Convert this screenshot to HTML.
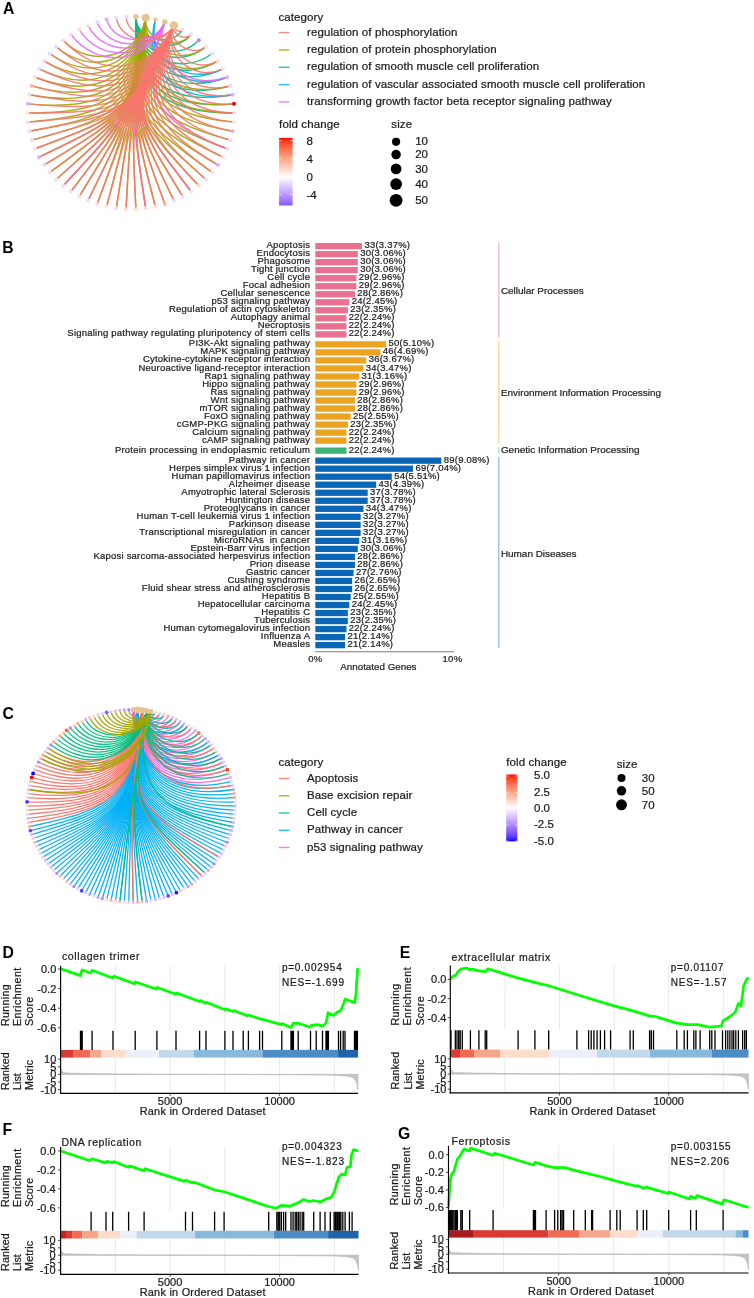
<!DOCTYPE html>
<html><head><meta charset="utf-8"><style>
html,body{margin:0;padding:0;background:#fff;}
svg{display:block;filter:blur(0.4px);}
text{font-family:"Liberation Sans", sans-serif;stroke:currentColor;stroke-width:0.22px;}
</style></head><body>
<svg width="754" height="1298" viewBox="0 0 754 1298">
<rect width="754" height="1298" fill="#fff"/>
<g>
<rect x="315.3" y="243.00" width="46.74" height="6.3" fill="#E9728F"/>
<text x="310.22" y="248.20" font-size="9.5" text-anchor="end" fill="#1c1c1c" color="#1c1c1c" letter-spacing="0.22">Apoptosis</text>
<text x="364.44" y="248.20" font-size="9.5" text-anchor="start" fill="#1c1c1c" color="#1c1c1c" letter-spacing="0.22">33(3.37%)</text>
<rect x="315.3" y="251.02" width="42.49" height="6.3" fill="#E9728F"/>
<text x="310.22" y="256.22" font-size="9.5" text-anchor="end" fill="#1c1c1c" color="#1c1c1c" letter-spacing="0.22">Endocytosis</text>
<text x="360.19" y="256.22" font-size="9.5" text-anchor="start" fill="#1c1c1c" color="#1c1c1c" letter-spacing="0.22">30(3.06%)</text>
<rect x="315.3" y="259.04" width="42.49" height="6.3" fill="#E9728F"/>
<text x="310.22" y="264.24" font-size="9.5" text-anchor="end" fill="#1c1c1c" color="#1c1c1c" letter-spacing="0.22">Phagosome</text>
<text x="360.19" y="264.24" font-size="9.5" text-anchor="start" fill="#1c1c1c" color="#1c1c1c" letter-spacing="0.22">30(3.06%)</text>
<rect x="315.3" y="267.06" width="42.49" height="6.3" fill="#E9728F"/>
<text x="310.22" y="272.26" font-size="9.5" text-anchor="end" fill="#1c1c1c" color="#1c1c1c" letter-spacing="0.22">Tight junction</text>
<text x="360.19" y="272.26" font-size="9.5" text-anchor="start" fill="#1c1c1c" color="#1c1c1c" letter-spacing="0.22">30(3.06%)</text>
<rect x="315.3" y="275.08" width="41.07" height="6.3" fill="#E9728F"/>
<text x="310.22" y="280.28" font-size="9.5" text-anchor="end" fill="#1c1c1c" color="#1c1c1c" letter-spacing="0.22">Cell cycle</text>
<text x="358.77" y="280.28" font-size="9.5" text-anchor="start" fill="#1c1c1c" color="#1c1c1c" letter-spacing="0.22">29(2.96%)</text>
<rect x="315.3" y="283.10" width="41.07" height="6.3" fill="#E9728F"/>
<text x="310.22" y="288.30" font-size="9.5" text-anchor="end" fill="#1c1c1c" color="#1c1c1c" letter-spacing="0.22">Focal adhesion</text>
<text x="358.77" y="288.30" font-size="9.5" text-anchor="start" fill="#1c1c1c" color="#1c1c1c" letter-spacing="0.22">29(2.96%)</text>
<rect x="315.3" y="291.12" width="39.66" height="6.3" fill="#E9728F"/>
<text x="310.22" y="296.32" font-size="9.5" text-anchor="end" fill="#1c1c1c" color="#1c1c1c" letter-spacing="0.22">Cellular senescence</text>
<text x="357.36" y="296.32" font-size="9.5" text-anchor="start" fill="#1c1c1c" color="#1c1c1c" letter-spacing="0.22">28(2.86%)</text>
<rect x="315.3" y="299.14" width="33.99" height="6.3" fill="#E9728F"/>
<text x="310.22" y="304.34" font-size="9.5" text-anchor="end" fill="#1c1c1c" color="#1c1c1c" letter-spacing="0.22">p53 signaling pathway</text>
<text x="351.69" y="304.34" font-size="9.5" text-anchor="start" fill="#1c1c1c" color="#1c1c1c" letter-spacing="0.22">24(2.45%)</text>
<rect x="315.3" y="307.16" width="32.57" height="6.3" fill="#E9728F"/>
<text x="310.22" y="312.36" font-size="9.5" text-anchor="end" fill="#1c1c1c" color="#1c1c1c" letter-spacing="0.22">Regulation of actin cytoskeleton</text>
<text x="350.27" y="312.36" font-size="9.5" text-anchor="start" fill="#1c1c1c" color="#1c1c1c" letter-spacing="0.22">23(2.35%)</text>
<rect x="315.3" y="315.18" width="31.16" height="6.3" fill="#E9728F"/>
<text x="310.22" y="320.38" font-size="9.5" text-anchor="end" fill="#1c1c1c" color="#1c1c1c" letter-spacing="0.22">Autophagy animal</text>
<text x="348.86" y="320.38" font-size="9.5" text-anchor="start" fill="#1c1c1c" color="#1c1c1c" letter-spacing="0.22">22(2.24%)</text>
<rect x="315.3" y="323.20" width="31.16" height="6.3" fill="#E9728F"/>
<text x="310.22" y="328.40" font-size="9.5" text-anchor="end" fill="#1c1c1c" color="#1c1c1c" letter-spacing="0.22">Necroptosis</text>
<text x="348.86" y="328.40" font-size="9.5" text-anchor="start" fill="#1c1c1c" color="#1c1c1c" letter-spacing="0.22">22(2.24%)</text>
<rect x="315.3" y="331.22" width="31.16" height="6.3" fill="#E9728F"/>
<text x="310.22" y="336.42" font-size="9.5" text-anchor="end" fill="#1c1c1c" color="#1c1c1c" letter-spacing="0.22">Signaling pathway regulating pluripotency of stem cells</text>
<text x="348.86" y="336.42" font-size="9.5" text-anchor="start" fill="#1c1c1c" color="#1c1c1c" letter-spacing="0.22">22(2.24%)</text>
<rect x="315.3" y="341.24" width="70.81" height="6.3" fill="#ECA420"/>
<text x="310.22" y="346.44" font-size="9.5" text-anchor="end" fill="#1c1c1c" color="#1c1c1c" letter-spacing="0.22">PI3K-Akt signaling pathway</text>
<text x="388.51" y="346.44" font-size="9.5" text-anchor="start" fill="#1c1c1c" color="#1c1c1c" letter-spacing="0.22">50(5.10%)</text>
<rect x="315.3" y="349.26" width="65.15" height="6.3" fill="#ECA420"/>
<text x="310.22" y="354.46" font-size="9.5" text-anchor="end" fill="#1c1c1c" color="#1c1c1c" letter-spacing="0.22">MAPK signaling pathway</text>
<text x="382.85" y="354.46" font-size="9.5" text-anchor="start" fill="#1c1c1c" color="#1c1c1c" letter-spacing="0.22">46(4.69%)</text>
<rect x="315.3" y="357.28" width="50.99" height="6.3" fill="#ECA420"/>
<text x="310.22" y="362.48" font-size="9.5" text-anchor="end" fill="#1c1c1c" color="#1c1c1c" letter-spacing="0.22">Cytokine-cytokine receptor interaction</text>
<text x="368.69" y="362.48" font-size="9.5" text-anchor="start" fill="#1c1c1c" color="#1c1c1c" letter-spacing="0.22">36(3.67%)</text>
<rect x="315.3" y="365.30" width="48.15" height="6.3" fill="#ECA420"/>
<text x="310.22" y="370.50" font-size="9.5" text-anchor="end" fill="#1c1c1c" color="#1c1c1c" letter-spacing="0.22">Neuroactive ligand-receptor interaction</text>
<text x="365.85" y="370.50" font-size="9.5" text-anchor="start" fill="#1c1c1c" color="#1c1c1c" letter-spacing="0.22">34(3.47%)</text>
<rect x="315.3" y="373.32" width="43.91" height="6.3" fill="#ECA420"/>
<text x="310.22" y="378.52" font-size="9.5" text-anchor="end" fill="#1c1c1c" color="#1c1c1c" letter-spacing="0.22">Rap1 signaling pathway</text>
<text x="361.61" y="378.52" font-size="9.5" text-anchor="start" fill="#1c1c1c" color="#1c1c1c" letter-spacing="0.22">31(3.16%)</text>
<rect x="315.3" y="381.34" width="41.07" height="6.3" fill="#ECA420"/>
<text x="310.22" y="386.54" font-size="9.5" text-anchor="end" fill="#1c1c1c" color="#1c1c1c" letter-spacing="0.22">Hippo signaling pathway</text>
<text x="358.77" y="386.54" font-size="9.5" text-anchor="start" fill="#1c1c1c" color="#1c1c1c" letter-spacing="0.22">29(2.96%)</text>
<rect x="315.3" y="389.36" width="41.07" height="6.3" fill="#ECA420"/>
<text x="310.22" y="394.56" font-size="9.5" text-anchor="end" fill="#1c1c1c" color="#1c1c1c" letter-spacing="0.22">Ras signaling pathway</text>
<text x="358.77" y="394.56" font-size="9.5" text-anchor="start" fill="#1c1c1c" color="#1c1c1c" letter-spacing="0.22">29(2.96%)</text>
<rect x="315.3" y="397.38" width="39.66" height="6.3" fill="#ECA420"/>
<text x="310.22" y="402.58" font-size="9.5" text-anchor="end" fill="#1c1c1c" color="#1c1c1c" letter-spacing="0.22">Wnt signaling pathway</text>
<text x="357.36" y="402.58" font-size="9.5" text-anchor="start" fill="#1c1c1c" color="#1c1c1c" letter-spacing="0.22">28(2.86%)</text>
<rect x="315.3" y="405.40" width="39.66" height="6.3" fill="#ECA420"/>
<text x="310.22" y="410.60" font-size="9.5" text-anchor="end" fill="#1c1c1c" color="#1c1c1c" letter-spacing="0.22">mTOR signaling pathway</text>
<text x="357.36" y="410.60" font-size="9.5" text-anchor="start" fill="#1c1c1c" color="#1c1c1c" letter-spacing="0.22">28(2.86%)</text>
<rect x="315.3" y="413.42" width="35.41" height="6.3" fill="#ECA420"/>
<text x="310.22" y="418.62" font-size="9.5" text-anchor="end" fill="#1c1c1c" color="#1c1c1c" letter-spacing="0.22">FoxO signaling pathway</text>
<text x="353.11" y="418.62" font-size="9.5" text-anchor="start" fill="#1c1c1c" color="#1c1c1c" letter-spacing="0.22">25(2.55%)</text>
<rect x="315.3" y="421.44" width="32.57" height="6.3" fill="#ECA420"/>
<text x="310.22" y="426.64" font-size="9.5" text-anchor="end" fill="#1c1c1c" color="#1c1c1c" letter-spacing="0.22">cGMP-PKG signaling pathway</text>
<text x="350.27" y="426.64" font-size="9.5" text-anchor="start" fill="#1c1c1c" color="#1c1c1c" letter-spacing="0.22">23(2.35%)</text>
<rect x="315.3" y="429.46" width="31.16" height="6.3" fill="#ECA420"/>
<text x="310.22" y="434.66" font-size="9.5" text-anchor="end" fill="#1c1c1c" color="#1c1c1c" letter-spacing="0.22">Calcium signaling pathway</text>
<text x="348.86" y="434.66" font-size="9.5" text-anchor="start" fill="#1c1c1c" color="#1c1c1c" letter-spacing="0.22">22(2.24%)</text>
<rect x="315.3" y="437.48" width="31.16" height="6.3" fill="#ECA420"/>
<text x="310.22" y="442.68" font-size="9.5" text-anchor="end" fill="#1c1c1c" color="#1c1c1c" letter-spacing="0.22">cAMP signaling pathway</text>
<text x="348.86" y="442.68" font-size="9.5" text-anchor="start" fill="#1c1c1c" color="#1c1c1c" letter-spacing="0.22">22(2.24%)</text>
<rect x="315.3" y="447.50" width="31.16" height="6.3" fill="#3DB478"/>
<text x="310.22" y="452.70" font-size="9.5" text-anchor="end" fill="#1c1c1c" color="#1c1c1c" letter-spacing="0.22">Protein processing in endoplasmic reticulum</text>
<text x="348.86" y="452.70" font-size="9.5" text-anchor="start" fill="#1c1c1c" color="#1c1c1c" letter-spacing="0.22">22(2.24%)</text>
<rect x="315.3" y="457.52" width="126.05" height="6.3" fill="#0A67B7"/>
<text x="310.22" y="462.72" font-size="9.5" text-anchor="end" fill="#1c1c1c" color="#1c1c1c" letter-spacing="0.22">Pathway in cancer</text>
<text x="443.75" y="462.72" font-size="9.5" text-anchor="start" fill="#1c1c1c" color="#1c1c1c" letter-spacing="0.22">89(9.08%)</text>
<rect x="315.3" y="465.54" width="97.72" height="6.3" fill="#0A67B7"/>
<text x="310.22" y="470.74" font-size="9.5" text-anchor="end" fill="#1c1c1c" color="#1c1c1c" letter-spacing="0.22">Herpes simplex virus 1 infection</text>
<text x="415.42" y="470.74" font-size="9.5" text-anchor="start" fill="#1c1c1c" color="#1c1c1c" letter-spacing="0.22">69(7.04%)</text>
<rect x="315.3" y="473.56" width="76.48" height="6.3" fill="#0A67B7"/>
<text x="310.22" y="478.76" font-size="9.5" text-anchor="end" fill="#1c1c1c" color="#1c1c1c" letter-spacing="0.22">Human papillomavirus infection</text>
<text x="394.18" y="478.76" font-size="9.5" text-anchor="start" fill="#1c1c1c" color="#1c1c1c" letter-spacing="0.22">54(5.51%)</text>
<rect x="315.3" y="481.58" width="60.90" height="6.3" fill="#0A67B7"/>
<text x="310.22" y="486.78" font-size="9.5" text-anchor="end" fill="#1c1c1c" color="#1c1c1c" letter-spacing="0.22">Alzheimer disease</text>
<text x="378.60" y="486.78" font-size="9.5" text-anchor="start" fill="#1c1c1c" color="#1c1c1c" letter-spacing="0.22">43(4.39%)</text>
<rect x="315.3" y="489.60" width="52.40" height="6.3" fill="#0A67B7"/>
<text x="310.22" y="494.80" font-size="9.5" text-anchor="end" fill="#1c1c1c" color="#1c1c1c" letter-spacing="0.22">Amyotrophic lateral Sclerosis</text>
<text x="370.10" y="494.80" font-size="9.5" text-anchor="start" fill="#1c1c1c" color="#1c1c1c" letter-spacing="0.22">37(3.78%)</text>
<rect x="315.3" y="497.62" width="52.40" height="6.3" fill="#0A67B7"/>
<text x="310.22" y="502.82" font-size="9.5" text-anchor="end" fill="#1c1c1c" color="#1c1c1c" letter-spacing="0.22">Huntington disease</text>
<text x="370.10" y="502.82" font-size="9.5" text-anchor="start" fill="#1c1c1c" color="#1c1c1c" letter-spacing="0.22">37(3.78%)</text>
<rect x="315.3" y="505.64" width="48.15" height="6.3" fill="#0A67B7"/>
<text x="310.22" y="510.84" font-size="9.5" text-anchor="end" fill="#1c1c1c" color="#1c1c1c" letter-spacing="0.22">Proteoglycans in cancer</text>
<text x="365.85" y="510.84" font-size="9.5" text-anchor="start" fill="#1c1c1c" color="#1c1c1c" letter-spacing="0.22">34(3.47%)</text>
<rect x="315.3" y="513.66" width="45.32" height="6.3" fill="#0A67B7"/>
<text x="310.22" y="518.86" font-size="9.5" text-anchor="end" fill="#1c1c1c" color="#1c1c1c" letter-spacing="0.22">Human T-cell leukemia virus 1 infection</text>
<text x="363.02" y="518.86" font-size="9.5" text-anchor="start" fill="#1c1c1c" color="#1c1c1c" letter-spacing="0.22">32(3.27%)</text>
<rect x="315.3" y="521.68" width="45.32" height="6.3" fill="#0A67B7"/>
<text x="310.22" y="526.88" font-size="9.5" text-anchor="end" fill="#1c1c1c" color="#1c1c1c" letter-spacing="0.22">Parkinson disease</text>
<text x="363.02" y="526.88" font-size="9.5" text-anchor="start" fill="#1c1c1c" color="#1c1c1c" letter-spacing="0.22">32(3.27%)</text>
<rect x="315.3" y="529.70" width="45.32" height="6.3" fill="#0A67B7"/>
<text x="310.22" y="534.90" font-size="9.5" text-anchor="end" fill="#1c1c1c" color="#1c1c1c" letter-spacing="0.22">Transcriptional misregulation in cancer</text>
<text x="363.02" y="534.90" font-size="9.5" text-anchor="start" fill="#1c1c1c" color="#1c1c1c" letter-spacing="0.22">32(3.27%)</text>
<rect x="315.3" y="537.72" width="43.91" height="6.3" fill="#0A67B7"/>
<text x="310.22" y="542.92" font-size="9.5" text-anchor="end" fill="#1c1c1c" color="#1c1c1c" letter-spacing="0.22">MicroRNAs  in cancer</text>
<text x="361.61" y="542.92" font-size="9.5" text-anchor="start" fill="#1c1c1c" color="#1c1c1c" letter-spacing="0.22">31(3.16%)</text>
<rect x="315.3" y="545.74" width="42.49" height="6.3" fill="#0A67B7"/>
<text x="310.22" y="550.94" font-size="9.5" text-anchor="end" fill="#1c1c1c" color="#1c1c1c" letter-spacing="0.22">Epstein-Barr virus infection</text>
<text x="360.19" y="550.94" font-size="9.5" text-anchor="start" fill="#1c1c1c" color="#1c1c1c" letter-spacing="0.22">30(3.06%)</text>
<rect x="315.3" y="553.76" width="39.66" height="6.3" fill="#0A67B7"/>
<text x="310.22" y="558.96" font-size="9.5" text-anchor="end" fill="#1c1c1c" color="#1c1c1c" letter-spacing="0.22">Kaposi sarcoma-associated herpesvirus infection</text>
<text x="357.36" y="558.96" font-size="9.5" text-anchor="start" fill="#1c1c1c" color="#1c1c1c" letter-spacing="0.22">28(2.86%)</text>
<rect x="315.3" y="561.78" width="39.66" height="6.3" fill="#0A67B7"/>
<text x="310.22" y="566.98" font-size="9.5" text-anchor="end" fill="#1c1c1c" color="#1c1c1c" letter-spacing="0.22">Prion disease</text>
<text x="357.36" y="566.98" font-size="9.5" text-anchor="start" fill="#1c1c1c" color="#1c1c1c" letter-spacing="0.22">28(2.86%)</text>
<rect x="315.3" y="569.80" width="38.24" height="6.3" fill="#0A67B7"/>
<text x="310.22" y="575.00" font-size="9.5" text-anchor="end" fill="#1c1c1c" color="#1c1c1c" letter-spacing="0.22">Gastric cancer</text>
<text x="355.94" y="575.00" font-size="9.5" text-anchor="start" fill="#1c1c1c" color="#1c1c1c" letter-spacing="0.22">27(2.76%)</text>
<rect x="315.3" y="577.82" width="36.82" height="6.3" fill="#0A67B7"/>
<text x="310.22" y="583.02" font-size="9.5" text-anchor="end" fill="#1c1c1c" color="#1c1c1c" letter-spacing="0.22">Cushing syndrome</text>
<text x="354.52" y="583.02" font-size="9.5" text-anchor="start" fill="#1c1c1c" color="#1c1c1c" letter-spacing="0.22">26(2.65%)</text>
<rect x="315.3" y="585.84" width="36.82" height="6.3" fill="#0A67B7"/>
<text x="310.22" y="591.04" font-size="9.5" text-anchor="end" fill="#1c1c1c" color="#1c1c1c" letter-spacing="0.22">Fluid shear stress and atherosclerosis</text>
<text x="354.52" y="591.04" font-size="9.5" text-anchor="start" fill="#1c1c1c" color="#1c1c1c" letter-spacing="0.22">26(2.65%)</text>
<rect x="315.3" y="593.86" width="35.41" height="6.3" fill="#0A67B7"/>
<text x="310.22" y="599.06" font-size="9.5" text-anchor="end" fill="#1c1c1c" color="#1c1c1c" letter-spacing="0.22">Hepatitis B</text>
<text x="353.11" y="599.06" font-size="9.5" text-anchor="start" fill="#1c1c1c" color="#1c1c1c" letter-spacing="0.22">25(2.55%)</text>
<rect x="315.3" y="601.88" width="33.99" height="6.3" fill="#0A67B7"/>
<text x="310.22" y="607.08" font-size="9.5" text-anchor="end" fill="#1c1c1c" color="#1c1c1c" letter-spacing="0.22">Hepatocellular carcinoma</text>
<text x="351.69" y="607.08" font-size="9.5" text-anchor="start" fill="#1c1c1c" color="#1c1c1c" letter-spacing="0.22">24(2.45%)</text>
<rect x="315.3" y="609.90" width="32.57" height="6.3" fill="#0A67B7"/>
<text x="310.22" y="615.10" font-size="9.5" text-anchor="end" fill="#1c1c1c" color="#1c1c1c" letter-spacing="0.22">Hepatitis C</text>
<text x="350.27" y="615.10" font-size="9.5" text-anchor="start" fill="#1c1c1c" color="#1c1c1c" letter-spacing="0.22">23(2.35%)</text>
<rect x="315.3" y="617.92" width="32.57" height="6.3" fill="#0A67B7"/>
<text x="310.22" y="623.12" font-size="9.5" text-anchor="end" fill="#1c1c1c" color="#1c1c1c" letter-spacing="0.22">Tuberculosis</text>
<text x="350.27" y="623.12" font-size="9.5" text-anchor="start" fill="#1c1c1c" color="#1c1c1c" letter-spacing="0.22">23(2.35%)</text>
<rect x="315.3" y="625.94" width="31.16" height="6.3" fill="#0A67B7"/>
<text x="310.22" y="631.14" font-size="9.5" text-anchor="end" fill="#1c1c1c" color="#1c1c1c" letter-spacing="0.22">Human cytomegalovirus infection</text>
<text x="348.86" y="631.14" font-size="9.5" text-anchor="start" fill="#1c1c1c" color="#1c1c1c" letter-spacing="0.22">22(2.24%)</text>
<rect x="315.3" y="633.96" width="29.74" height="6.3" fill="#0A67B7"/>
<text x="310.22" y="639.16" font-size="9.5" text-anchor="end" fill="#1c1c1c" color="#1c1c1c" letter-spacing="0.22">Influenza A</text>
<text x="347.44" y="639.16" font-size="9.5" text-anchor="start" fill="#1c1c1c" color="#1c1c1c" letter-spacing="0.22">21(2.14%)</text>
<rect x="315.3" y="641.98" width="29.74" height="6.3" fill="#0A67B7"/>
<text x="310.22" y="647.18" font-size="9.5" text-anchor="end" fill="#1c1c1c" color="#1c1c1c" letter-spacing="0.22">Measles</text>
<text x="347.44" y="647.18" font-size="9.5" text-anchor="start" fill="#1c1c1c" color="#1c1c1c" letter-spacing="0.22">21(2.14%)</text>
</g>
<line x1="315.3" y1="651.8" x2="454" y2="651.8" stroke="#7a7a7a" stroke-width="1.1"/>
<text x="315.30" y="662.40" font-size="9.5" text-anchor="middle" fill="#1c1c1c" color="#1c1c1c" letter-spacing="0.3">0%</text>
<text x="452.50" y="662.40" font-size="9.5" text-anchor="middle" fill="#1c1c1c" color="#1c1c1c" letter-spacing="0.3">10%</text>
<text x="378.40" y="670.00" font-size="9.8" text-anchor="middle" fill="#1c1c1c" color="#1c1c1c">Annotated Genes</text>
<line x1="498.8" y1="242.7" x2="498.8" y2="337.6" stroke="#F0A9BD" stroke-width="1.1"/>
<text x="500.90" y="293.60" font-size="9.95" text-anchor="start" fill="#222" color="#222">Cellular Processes</text>
<line x1="498.8" y1="341.0" x2="498.8" y2="443.8" stroke="#F3CC85" stroke-width="1.1"/>
<text x="500.90" y="395.60" font-size="9.95" text-anchor="start" fill="#222" color="#222">Environment Information Processing</text>
<line x1="498.8" y1="447.0" x2="498.8" y2="453.5" stroke="#9AD6BA" stroke-width="1.1"/>
<text x="500.90" y="453.30" font-size="9.95" text-anchor="start" fill="#222" color="#222">Genetic Information Processing</text>
<line x1="498.8" y1="456.8" x2="498.8" y2="648.0" stroke="#7FB3E0" stroke-width="1.1"/>
<text x="500.90" y="556.70" font-size="9.95" text-anchor="start" fill="#222" color="#222">Human Diseases</text>
<text x="0" y="0" font-size="16.6" font-weight="bold" fill="#000" style="stroke:none" transform="translate(2.20 253.20) scale(0.95 1)">B</text>
<g fill="none" stroke-linecap="butt">
<g stroke="#00BF7D" stroke-width="1.45" stroke-opacity="0.9"><path d="M135.92,16.81C134.81,38.67 170.99,48.56 182.75,29.60"/><path d="M135.92,16.81C134.58,43.04 174.66,55.95 191.04,34.56"/><path d="M135.92,16.81C134.36,47.42 177.21,63.38 198.78,40.22"/><path d="M135.92,16.81C134.13,51.79 178.67,70.71 205.91,46.55"/><path d="M135.92,16.81C133.91,56.16 179.07,77.82 212.36,53.47"/><path d="M135.92,16.81C133.69,60.53 178.49,84.60 218.07,60.94"/><path d="M135.92,16.81C133.46,64.90 177.00,90.94 222.99,68.87"/><path d="M135.92,16.81C133.24,69.28 174.68,96.73 227.09,77.21"/><path d="M135.92,16.81C133.01,73.65 171.63,101.90 230.31,85.87"/><path d="M135.92,16.81C132.79,78.02 167.96,106.37 232.63,94.78"/><path d="M135.92,16.81C132.57,82.39 163.78,110.09 234.03,103.85"/><path d="M135.92,16.81C132.34,86.77 159.23,113.00 234.50,113.00"/></g>
<g stroke="#A3A500" stroke-width="1.45" stroke-opacity="0.9"><path d="M145.73,17.68C142.38,39.34 177.39,52.38 191.04,34.56"/><path d="M145.73,17.68C141.04,48.01 182.07,67.69 205.91,46.55"/><path d="M145.73,17.68C139.70,56.67 182.45,82.24 218.07,60.94"/><path d="M145.73,17.68C137.70,69.67 176.14,100.67 230.31,85.87"/><path d="M145.73,17.68C136.36,78.34 168.47,109.67 234.03,103.85"/><path d="M145.73,17.68C135.69,82.67 163.93,113.00 234.50,113.00"/><path d="M145.73,17.68C135.02,87.00 159.10,115.50 234.03,122.15"/><path d="M145.73,17.68C134.35,91.34 154.10,117.14 232.63,131.22"/><path d="M145.73,17.68C133.68,95.67 149.06,117.93 230.31,140.13"/><path d="M145.73,17.68C133.01,100.00 144.10,117.88 227.09,148.79"/><path d="M145.73,17.68C132.34,104.33 139.36,117.01 222.99,157.13"/><path d="M145.73,17.68C131.67,108.67 134.96,115.37 218.07,165.06"/><path d="M145.73,17.68C131.00,113.00 131.00,113.00 212.36,172.53"/><path d="M145.73,17.68C131.00,113.00 131.00,113.00 205.91,179.45"/><path d="M145.73,17.68C131.00,113.00 131.00,113.00 198.78,185.78"/><path d="M145.73,17.68C131.00,113.00 131.00,113.00 191.04,191.44"/><path d="M145.73,17.68C131.00,113.00 131.00,113.00 182.75,196.40"/><path d="M145.73,17.68C131.00,113.00 131.00,113.00 174.00,200.60"/><path d="M145.73,17.68C131.00,113.00 131.00,113.00 164.85,204.00"/><path d="M145.73,17.68C131.00,113.00 131.00,113.00 155.40,206.59"/><path d="M145.73,17.68C131.00,113.00 131.00,113.00 145.73,208.32"/><path d="M145.73,17.68C131.00,113.00 131.00,113.00 135.92,209.19"/><path d="M145.73,17.68C131.00,113.00 131.00,113.00 126.08,209.19"/><path d="M145.73,17.68C131.00,113.00 131.00,113.00 116.27,208.32"/><path d="M145.73,17.68C131.00,113.00 131.00,113.00 106.60,206.59"/><path d="M145.73,17.68C131.00,113.00 131.00,113.00 97.15,204.00"/><path d="M145.73,17.68C131.00,113.00 131.00,113.00 88.00,200.60"/><path d="M145.73,17.68C131.00,113.00 131.00,113.00 79.25,196.40"/><path d="M145.73,17.68C131.00,113.00 131.00,113.00 70.96,191.44"/><path d="M145.73,17.68C131.00,113.00 131.00,113.00 63.22,185.78"/><path d="M145.73,17.68C131.00,113.00 131.00,113.00 56.09,179.45"/><path d="M145.73,17.68C131.00,113.00 131.00,113.00 49.64,172.53"/><path d="M145.73,17.68C131.00,113.00 131.00,113.00 43.93,165.06"/><path d="M145.73,17.68C131.00,113.00 131.00,113.00 39.01,157.13"/><path d="M145.73,17.68C131.00,113.00 131.00,113.00 34.91,148.79"/><path d="M145.73,17.68C131.67,108.67 126.49,114.23 31.69,140.13"/><path d="M145.73,17.68C132.34,104.33 121.76,114.66 29.37,131.22"/><path d="M145.73,17.68C133.01,100.00 116.95,114.25 27.97,122.15"/><path d="M145.73,17.68C133.68,95.67 112.18,113.00 27.50,113.00"/><path d="M145.73,17.68C134.35,91.34 107.58,110.92 27.97,103.85"/><path d="M145.73,17.68C135.02,87.00 103.28,108.03 29.37,94.78"/><path d="M145.73,17.68C135.69,82.67 99.40,104.37 31.69,85.87"/><path d="M145.73,17.68C136.36,78.34 96.06,99.99 34.91,77.21"/><path d="M145.73,17.68C137.03,74.01 93.37,94.95 39.01,68.87"/><path d="M145.73,17.68C137.70,69.67 91.42,89.33 43.93,60.94"/><path d="M145.73,17.68C138.36,65.34 90.32,83.24 49.64,53.47"/><path d="M145.73,17.68C139.03,61.01 90.14,76.75 56.09,46.55"/><path d="M145.73,17.68C139.70,56.67 90.95,69.99 63.22,40.22"/></g>
<g stroke="#00B0F6" stroke-width="1.45" stroke-opacity="0.9"><path d="M155.40,19.41C145.42,57.70 185.36,86.92 222.99,68.87"/><path d="M155.40,19.41C144.31,61.95 183.41,93.48 227.09,77.21"/><path d="M155.40,19.41C142.09,70.46 177.20,104.72 232.63,94.78"/></g>
<g stroke="#E76BF3" stroke-width="1.45" stroke-opacity="0.9"><path d="M164.85,22.00C151.00,59.23 187.78,91.85 227.09,77.21"/><path d="M164.85,22.00C138.69,92.32 152.84,121.13 227.09,148.79"/><path d="M164.85,22.00C131.00,113.00 131.00,113.00 191.04,191.44"/><path d="M164.85,22.00C131.00,113.00 131.00,113.00 145.73,208.32"/><path d="M164.85,22.00C131.00,113.00 131.00,113.00 63.22,185.78"/><path d="M164.85,22.00C149.46,63.36 98.25,70.21 70.96,34.56"/><path d="M164.85,22.00C151.00,59.23 100.42,63.72 79.25,29.60"/><path d="M164.85,22.00C152.54,55.09 103.64,57.26 88.00,25.40"/><path d="M164.85,22.00C154.08,50.95 107.92,50.95 97.15,22.00"/><path d="M164.85,22.00C155.62,46.82 113.25,44.94 106.60,19.41"/></g>
<g stroke="#F8766D" stroke-width="1.45" stroke-opacity="0.9"><path d="M174.00,25.40C172.04,29.38 180.40,33.39 182.75,29.60"/><path d="M174.00,25.40C170.09,33.37 185.58,41.69 191.04,34.56"/><path d="M174.00,25.40C166.18,41.33 192.29,58.63 205.91,46.55"/><path d="M174.00,25.40C162.27,49.29 194.32,75.14 218.07,60.94"/><path d="M174.00,25.40C160.32,53.27 193.72,82.91 222.99,68.87"/><path d="M174.00,25.40C156.41,61.24 189.68,96.97 230.31,85.87"/><path d="M174.00,25.40C154.45,65.22 186.43,103.06 232.63,94.78"/><path d="M174.00,25.40C152.50,69.20 182.52,108.42 234.03,103.85"/><path d="M174.00,25.40C150.54,73.18 178.05,113.00 234.50,113.00"/><path d="M174.00,25.40C148.59,77.16 173.15,116.74 234.03,122.15"/><path d="M174.00,25.40C146.63,81.15 167.96,119.63 232.63,131.22"/><path d="M174.00,25.40C144.68,85.13 162.60,121.63 230.31,140.13"/><path d="M174.00,25.40C142.73,89.11 157.21,122.76 227.09,148.79"/><path d="M174.00,25.40C140.77,93.09 151.91,123.03 222.99,157.13"/><path d="M174.00,25.40C138.82,97.07 146.83,122.47 218.07,165.06"/><path d="M174.00,25.40C136.86,101.05 142.09,121.12 212.36,172.53"/><path d="M174.00,25.40C134.91,105.04 137.81,119.04 205.91,179.45"/><path d="M174.00,25.40C132.95,109.02 134.08,116.31 198.78,185.78"/><path d="M174.00,25.40C131.00,113.00 131.00,113.00 191.04,191.44"/><path d="M174.00,25.40C131.00,113.00 131.00,113.00 182.75,196.40"/><path d="M174.00,25.40C131.00,113.00 131.00,113.00 174.00,200.60"/><path d="M174.00,25.40C131.00,113.00 131.00,113.00 164.85,204.00"/><path d="M174.00,25.40C131.00,113.00 131.00,113.00 155.40,206.59"/><path d="M174.00,25.40C131.00,113.00 131.00,113.00 145.73,208.32"/><path d="M174.00,25.40C131.00,113.00 131.00,113.00 135.92,209.19"/><path d="M174.00,25.40C131.00,113.00 131.00,113.00 126.08,209.19"/><path d="M174.00,25.40C131.00,113.00 131.00,113.00 116.27,208.32"/><path d="M174.00,25.40C131.00,113.00 131.00,113.00 106.60,206.59"/><path d="M174.00,25.40C131.00,113.00 131.00,113.00 97.15,204.00"/><path d="M174.00,25.40C131.00,113.00 131.00,113.00 88.00,200.60"/><path d="M174.00,25.40C131.00,113.00 131.00,113.00 79.25,196.40"/><path d="M174.00,25.40C131.00,113.00 131.00,113.00 70.96,191.44"/><path d="M174.00,25.40C131.00,113.00 131.00,113.00 63.22,185.78"/><path d="M174.00,25.40C131.00,113.00 131.00,113.00 56.09,179.45"/><path d="M174.00,25.40C131.00,113.00 131.00,113.00 49.64,172.53"/><path d="M174.00,25.40C131.00,113.00 131.00,113.00 43.93,165.06"/><path d="M174.00,25.40C131.00,113.00 131.00,113.00 39.01,157.13"/><path d="M174.00,25.40C131.00,113.00 131.00,113.00 34.91,148.79"/><path d="M174.00,25.40C131.00,113.00 131.00,113.00 31.69,140.13"/><path d="M174.00,25.40C131.00,113.00 131.00,113.00 29.37,131.22"/><path d="M174.00,25.40C131.00,113.00 131.00,113.00 27.97,122.15"/><path d="M174.00,25.40C132.95,109.02 126.30,113.00 27.50,113.00"/><path d="M174.00,25.40C134.91,105.04 121.63,112.17 27.97,103.85"/><path d="M174.00,25.40C136.86,101.05 117.14,110.51 29.37,94.78"/><path d="M174.00,25.40C138.82,97.07 112.94,108.07 31.69,85.87"/><path d="M174.00,25.40C140.77,93.09 109.16,104.87 34.91,77.21"/><path d="M174.00,25.40C142.73,89.11 105.91,100.97 39.01,68.87"/><path d="M174.00,25.40C144.68,85.13 103.30,96.43 43.93,60.94"/><path d="M174.00,25.40C146.63,81.15 101.42,91.35 49.64,53.47"/><path d="M174.00,25.40C148.59,77.16 100.36,85.81 56.09,46.55"/><path d="M174.00,25.40C150.54,73.18 100.19,79.92 63.22,40.22"/><path d="M174.00,25.40C162.27,49.29 120.29,43.68 116.27,17.68"/><path d="M174.00,25.40C164.22,45.31 127.19,38.67 126.08,16.81"/></g>
</g>
<circle cx="135.92" cy="16.81" r="2.7" fill="#E5C494"/>
<circle cx="145.73" cy="17.68" r="4.0" fill="#E5C494"/>
<circle cx="155.40" cy="19.41" r="2.1" fill="#E5C494"/>
<circle cx="164.85" cy="22.00" r="2.7" fill="#E5C494"/>
<circle cx="174.00" cy="25.40" r="4.2" fill="#E5C494"/>
<circle cx="182.75" cy="29.60" r="2.0" fill="#ffe0d5"/>
<circle cx="191.04" cy="34.56" r="2.0" fill="#ebdcff"/>
<circle cx="198.78" cy="40.22" r="2.0" fill="#ae85ff"/>
<circle cx="205.91" cy="46.55" r="2.0" fill="#ffe0d5"/>
<circle cx="212.36" cy="53.47" r="2.0" fill="#ebdcff"/>
<circle cx="218.07" cy="60.94" r="2.0" fill="#ffe0d5"/>
<circle cx="222.99" cy="68.87" r="2.0" fill="#ffe0d5"/>
<circle cx="227.09" cy="77.21" r="2.0" fill="#d1b4ff"/>
<circle cx="230.31" cy="85.87" r="2.0" fill="#ebdcff"/>
<circle cx="232.63" cy="94.78" r="2.0" fill="#d1b4ff"/>
<circle cx="234.03" cy="103.85" r="2.0" fill="#ff0000"/>
<circle cx="234.50" cy="113.00" r="2.0" fill="#ebdcff"/>
<circle cx="234.03" cy="122.15" r="2.0" fill="#ffe0d5"/>
<circle cx="232.63" cy="131.22" r="2.0" fill="#d1b4ff"/>
<circle cx="230.31" cy="140.13" r="2.0" fill="#ebdcff"/>
<circle cx="227.09" cy="148.79" r="2.0" fill="#ebdcff"/>
<circle cx="222.99" cy="157.13" r="2.0" fill="#ffe0d5"/>
<circle cx="218.07" cy="165.06" r="2.0" fill="#d1b4ff"/>
<circle cx="212.36" cy="172.53" r="2.0" fill="#ffe0d5"/>
<circle cx="205.91" cy="179.45" r="2.0" fill="#ebdcff"/>
<circle cx="198.78" cy="185.78" r="2.0" fill="#ffe0d5"/>
<circle cx="191.04" cy="191.44" r="2.0" fill="#ebdcff"/>
<circle cx="182.75" cy="196.40" r="2.0" fill="#ebdcff"/>
<circle cx="174.00" cy="200.60" r="2.0" fill="#ebdcff"/>
<circle cx="164.85" cy="204.00" r="2.0" fill="#ffb8a1"/>
<circle cx="155.40" cy="206.59" r="2.0" fill="#ffe0d5"/>
<circle cx="145.73" cy="208.32" r="2.0" fill="#ffe0d5"/>
<circle cx="135.92" cy="209.19" r="2.0" fill="#ffe0d5"/>
<circle cx="126.08" cy="209.19" r="2.0" fill="#ffe0d5"/>
<circle cx="116.27" cy="208.32" r="2.0" fill="#ebdcff"/>
<circle cx="106.60" cy="206.59" r="2.0" fill="#ffe0d5"/>
<circle cx="97.15" cy="204.00" r="2.0" fill="#ebdcff"/>
<circle cx="88.00" cy="200.60" r="2.0" fill="#ebdcff"/>
<circle cx="79.25" cy="196.40" r="2.0" fill="#ffe0d5"/>
<circle cx="70.96" cy="191.44" r="2.0" fill="#ebdcff"/>
<circle cx="63.22" cy="185.78" r="2.0" fill="#ebdcff"/>
<circle cx="56.09" cy="179.45" r="2.0" fill="#ebdcff"/>
<circle cx="49.64" cy="172.53" r="2.0" fill="#ebdcff"/>
<circle cx="43.93" cy="165.06" r="2.0" fill="#ebdcff"/>
<circle cx="39.01" cy="157.13" r="2.0" fill="#d1b4ff"/>
<circle cx="34.91" cy="148.79" r="2.0" fill="#ffe0d5"/>
<circle cx="31.69" cy="140.13" r="2.0" fill="#ebdcff"/>
<circle cx="29.37" cy="131.22" r="2.0" fill="#ffe0d5"/>
<circle cx="27.97" cy="122.15" r="2.0" fill="#ebdcff"/>
<circle cx="27.50" cy="113.00" r="2.0" fill="#ffe0d5"/>
<circle cx="27.97" cy="103.85" r="2.0" fill="#d1b4ff"/>
<circle cx="29.37" cy="94.78" r="2.0" fill="#ebdcff"/>
<circle cx="31.69" cy="85.87" r="2.0" fill="#ffb8a1"/>
<circle cx="34.91" cy="77.21" r="2.0" fill="#ffe0d5"/>
<circle cx="39.01" cy="68.87" r="2.0" fill="#ebdcff"/>
<circle cx="43.93" cy="60.94" r="2.0" fill="#ebdcff"/>
<circle cx="49.64" cy="53.47" r="2.0" fill="#ebdcff"/>
<circle cx="56.09" cy="46.55" r="2.0" fill="#ebdcff"/>
<circle cx="63.22" cy="40.22" r="2.0" fill="#ebdcff"/>
<circle cx="70.96" cy="34.56" r="2.0" fill="#ebdcff"/>
<circle cx="79.25" cy="29.60" r="2.0" fill="#ffe0d5"/>
<circle cx="88.00" cy="25.40" r="2.0" fill="#ffe0d5"/>
<circle cx="97.15" cy="22.00" r="2.0" fill="#ebdcff"/>
<circle cx="106.60" cy="19.41" r="2.0" fill="#d1b4ff"/>
<circle cx="116.27" cy="17.68" r="2.0" fill="#ebdcff"/>
<circle cx="126.08" cy="16.81" r="2.0" fill="#ebdcff"/>
<g fill="none" stroke-linecap="butt">
<g stroke="#E76BF3" stroke-width="1.3" stroke-opacity="0.95"><path d="M133.24,709.72C133.01,719.61 152.88,722.00 155.39,712.39"/><path d="M133.24,709.72C132.96,721.59 156.17,724.85 159.71,713.44"/><path d="M133.24,709.72C132.92,723.57 159.24,727.81 163.99,714.67"/><path d="M133.24,709.72C132.87,725.55 162.09,730.85 168.20,716.07"/><path d="M133.24,709.72C132.82,727.53 164.70,733.98 172.34,717.64"/><path d="M133.24,709.72C132.78,729.51 167.08,737.17 176.41,719.37"/><path d="M133.24,709.72C132.73,731.48 169.23,740.41 180.39,721.25"/><path d="M133.24,709.72C132.69,733.46 171.15,743.69 184.29,723.30"/><path d="M133.24,709.72C132.64,735.44 172.83,747.00 188.08,725.50"/><path d="M133.24,709.72C132.59,737.42 174.29,750.33 191.77,727.85"/><path d="M133.24,709.72C132.55,739.40 175.51,753.66 195.34,730.34"/><path d="M133.24,709.72C132.50,741.38 176.51,756.98 198.80,732.98"/><path d="M133.24,709.72C132.46,743.35 177.28,760.29 202.13,735.74"/><path d="M133.24,709.72C132.41,745.33 177.84,763.56 205.33,738.64"/><path d="M133.24,709.72C132.36,747.31 178.17,766.78 208.39,741.67"/><path d="M133.24,709.72C132.32,749.29 178.30,769.96 211.30,744.81"/><path d="M133.24,709.72C132.27,751.27 178.23,773.06 214.07,748.06"/><path d="M133.24,709.72C132.23,753.25 177.95,776.10 216.69,751.43"/><path d="M133.24,709.72C132.18,755.22 177.49,779.05 219.14,754.89"/><path d="M133.24,709.72C132.13,757.20 176.84,781.90 221.44,758.45"/><path d="M133.24,709.72C132.09,759.18 176.01,784.65 223.56,762.10"/><path d="M133.24,709.72C132.04,761.16 175.02,787.29 225.52,765.82"/><path d="M133.24,709.72C132.00,763.14 173.87,789.81 227.30,769.63"/><path d="M133.24,709.72C131.95,765.11 172.57,792.20 228.90,773.50"/><path d="M133.24,709.72C131.90,767.09 171.13,794.45 230.32,777.43"/></g>
<g stroke="#00B0F6" stroke-width="1.3" stroke-opacity="0.95"><path d="M137.71,709.90C136.19,731.62 172.24,741.99 184.29,723.30"/><path d="M137.71,709.90C135.23,745.44 179.76,765.46 208.39,741.67"/><path d="M137.71,709.90C134.68,753.34 179.30,777.99 219.14,754.89"/><path d="M137.71,709.90C133.71,767.17 171.63,796.06 231.55,781.41"/><path d="M137.71,709.90C133.57,769.14 169.97,798.11 232.60,785.44"/><path d="M137.71,709.90C133.44,771.11 168.20,800.01 233.46,789.50"/><path d="M137.71,709.90C133.30,773.09 166.32,801.75 234.13,793.60"/><path d="M137.71,709.90C133.16,775.06 164.36,803.34 234.62,797.72"/><path d="M137.71,709.90C133.02,777.04 162.31,804.75 234.90,801.86"/><path d="M137.71,709.90C132.88,779.01 160.21,806.00 235.00,806.00"/><path d="M137.71,709.90C132.75,780.99 158.04,807.08 234.90,810.14"/><path d="M137.71,709.90C132.61,782.96 155.84,807.98 234.62,814.28"/><path d="M137.71,709.90C132.47,784.94 153.60,808.72 234.13,818.40"/><path d="M137.71,709.90C132.33,786.91 151.35,809.28 233.46,822.50"/><path d="M137.71,709.90C132.19,788.89 149.09,809.66 232.60,826.56"/><path d="M137.71,709.90C132.06,790.86 146.84,809.87 231.55,830.59"/><path d="M137.71,709.90C131.92,792.84 144.61,809.91 230.32,834.57"/><path d="M137.71,709.90C131.78,794.81 142.40,809.78 228.90,838.50"/><path d="M137.71,709.90C131.64,796.78 140.23,809.49 227.30,842.37"/><path d="M137.71,709.90C131.51,798.76 138.12,809.03 225.52,846.18"/><path d="M137.71,709.90C131.37,800.73 136.07,808.41 223.56,849.90"/><path d="M137.71,709.90C131.23,802.71 134.10,807.63 221.44,853.55"/><path d="M137.71,709.90C131.09,804.68 132.21,806.70 219.14,857.11"/><path d="M137.71,709.90C131.00,806.00 131.00,806.00 216.69,860.57"/><path d="M137.71,709.90C131.00,806.00 131.00,806.00 214.07,863.94"/><path d="M137.71,709.90C131.00,806.00 131.00,806.00 211.30,867.19"/><path d="M137.71,709.90C131.00,806.00 131.00,806.00 208.39,870.33"/><path d="M137.71,709.90C131.00,806.00 131.00,806.00 205.33,873.36"/><path d="M137.71,709.90C131.00,806.00 131.00,806.00 202.13,876.26"/><path d="M137.71,709.90C131.00,806.00 131.00,806.00 198.80,879.02"/><path d="M137.71,709.90C131.00,806.00 131.00,806.00 195.34,881.66"/><path d="M137.71,709.90C131.00,806.00 131.00,806.00 191.77,884.15"/><path d="M137.71,709.90C131.00,806.00 131.00,806.00 188.08,886.50"/><path d="M137.71,709.90C131.00,806.00 131.00,806.00 184.29,888.70"/><path d="M137.71,709.90C131.00,806.00 131.00,806.00 180.39,890.75"/><path d="M137.71,709.90C131.00,806.00 131.00,806.00 176.41,892.63"/><path d="M137.71,709.90C131.00,806.00 131.00,806.00 172.34,894.36"/><path d="M137.71,709.90C131.00,806.00 131.00,806.00 168.20,895.93"/><path d="M137.71,709.90C131.00,806.00 131.00,806.00 163.99,897.33"/><path d="M137.71,709.90C131.00,806.00 131.00,806.00 159.71,898.56"/><path d="M137.71,709.90C131.00,806.00 131.00,806.00 155.39,899.61"/><path d="M137.71,709.90C131.00,806.00 131.00,806.00 151.01,900.50"/><path d="M137.71,709.90C131.00,806.00 131.00,806.00 146.61,901.21"/><path d="M137.71,709.90C131.00,806.00 131.00,806.00 142.17,901.74"/><path d="M137.71,709.90C131.00,806.00 131.00,806.00 137.71,902.10"/><path d="M137.71,709.90C131.00,806.00 131.00,806.00 133.24,902.28"/><path d="M137.71,709.90C131.00,806.00 131.00,806.00 128.76,902.28"/><path d="M137.71,709.90C131.00,806.00 131.00,806.00 124.29,902.10"/><path d="M137.71,709.90C131.00,806.00 131.00,806.00 119.83,901.74"/><path d="M137.71,709.90C131.00,806.00 131.00,806.00 115.39,901.21"/><path d="M137.71,709.90C131.00,806.00 131.00,806.00 110.99,900.50"/><path d="M137.71,709.90C131.00,806.00 131.00,806.00 106.61,899.61"/><path d="M137.71,709.90C131.00,806.00 131.00,806.00 102.29,898.56"/><path d="M137.71,709.90C131.00,806.00 131.00,806.00 98.01,897.33"/><path d="M137.71,709.90C131.00,806.00 131.00,806.00 93.80,895.93"/><path d="M137.71,709.90C131.00,806.00 131.00,806.00 89.66,894.36"/><path d="M137.71,709.90C131.00,806.00 131.00,806.00 85.59,892.63"/><path d="M137.71,709.90C131.00,806.00 131.00,806.00 81.61,890.75"/><path d="M137.71,709.90C131.00,806.00 131.00,806.00 77.71,888.70"/><path d="M137.71,709.90C131.00,806.00 131.00,806.00 73.92,886.50"/><path d="M137.71,709.90C131.00,806.00 131.00,806.00 70.23,884.15"/><path d="M137.71,709.90C131.00,806.00 131.00,806.00 66.66,881.66"/><path d="M137.71,709.90C131.00,806.00 131.00,806.00 63.20,879.02"/><path d="M137.71,709.90C131.00,806.00 131.00,806.00 59.87,876.26"/><path d="M137.71,709.90C131.00,806.00 131.00,806.00 56.67,873.36"/><path d="M137.71,709.90C131.00,806.00 131.00,806.00 53.61,870.33"/><path d="M137.71,709.90C131.00,806.00 131.00,806.00 50.70,867.19"/><path d="M137.71,709.90C131.00,806.00 131.00,806.00 47.93,863.94"/><path d="M137.71,709.90C131.00,806.00 131.00,806.00 45.31,860.57"/><path d="M137.71,709.90C131.00,806.00 131.00,806.00 42.86,857.11"/><path d="M137.71,709.90C131.00,806.00 131.00,806.00 40.56,853.55"/><path d="M137.71,709.90C131.00,806.00 131.00,806.00 38.44,849.90"/><path d="M137.71,709.90C131.09,804.68 129.71,806.55 36.48,846.18"/><path d="M137.71,709.90C131.23,802.71 127.70,807.25 34.70,842.37"/><path d="M137.71,709.90C131.37,800.73 125.64,807.78 33.10,838.50"/><path d="M137.71,709.90C131.51,798.76 123.52,808.15 31.68,834.57"/><path d="M137.71,709.90C131.64,796.78 121.36,808.36 30.45,830.59"/><path d="M137.71,709.90C131.78,794.81 119.17,808.39 29.40,826.56"/></g>
<g stroke="#F8766D" stroke-width="1.3" stroke-opacity="0.95"><path d="M142.17,710.26C141.25,718.13 157.35,721.05 159.71,713.44"/><path d="M142.17,710.26C140.33,726.00 168.95,733.61 176.41,719.37"/><path d="M142.17,710.26C139.41,733.86 176.78,747.12 191.77,727.85"/><path d="M142.17,710.26C138.73,739.77 180.20,757.40 202.13,735.74"/><path d="M142.17,710.26C137.81,747.64 181.64,770.68 214.07,748.06"/><path d="M142.17,710.26C136.89,755.51 179.82,782.85 223.56,762.10"/><path d="M142.17,710.26C136.43,759.44 177.83,788.31 227.30,769.63"/><path d="M142.17,710.26C135.51,767.31 172.06,797.69 232.60,785.44"/><path d="M142.17,710.26C131.38,802.72 134.02,807.75 219.14,857.11"/><path d="M142.17,710.26C131.00,806.00 131.00,806.00 202.13,876.26"/><path d="M142.17,710.26C131.00,806.00 131.00,806.00 133.24,902.28"/><path d="M142.17,710.26C132.30,794.85 119.07,807.92 28.54,822.50"/><path d="M142.17,710.26C132.53,792.88 116.87,807.70 27.87,818.40"/><path d="M142.17,710.26C132.76,790.92 114.68,807.30 27.38,814.28"/><path d="M142.17,710.26C132.99,788.95 112.50,806.74 27.10,810.14"/><path d="M142.17,710.26C133.22,786.98 110.34,806.00 27.00,806.00"/><path d="M142.17,710.26C133.45,785.02 108.23,805.09 27.10,801.86"/><path d="M142.17,710.26C133.68,783.05 106.16,804.02 27.38,797.72"/><path d="M142.17,710.26C133.91,781.08 104.16,802.77 27.87,793.60"/><path d="M142.17,710.26C134.14,779.11 102.23,801.37 28.54,789.50"/><path d="M142.17,710.26C134.37,777.15 100.38,799.80 29.40,785.44"/><path d="M142.17,710.26C134.60,775.18 98.63,798.08 30.45,781.41"/><path d="M142.17,710.26C134.82,773.21 96.99,796.21 31.68,777.43"/><path d="M142.17,710.26C135.05,771.24 95.46,794.20 33.10,773.50"/><path d="M142.17,710.26C135.28,769.28 94.06,792.05 34.70,769.63"/><path d="M142.17,710.26C135.51,767.31 92.80,789.76 36.48,765.82"/><path d="M142.17,710.26C135.74,765.34 91.69,787.36 38.44,762.10"/><path d="M142.17,710.26C135.97,763.37 90.74,784.83 40.56,758.45"/><path d="M142.17,710.26C136.20,761.41 89.95,782.20 42.86,754.89"/><path d="M142.17,710.26C136.43,759.44 89.33,779.46 45.31,751.43"/><path d="M142.17,710.26C136.66,757.47 88.89,776.63 47.93,748.06"/></g>
<g stroke="#00BF7D" stroke-width="1.3" stroke-opacity="0.95"><path d="M146.61,710.79C145.96,714.70 154.38,716.23 155.39,712.39"/><path d="M146.61,710.79C145.32,718.62 161.28,722.18 163.99,714.67"/><path d="M146.61,710.79C144.68,722.53 167.25,728.53 172.34,717.64"/><path d="M146.61,710.79C144.04,726.44 172.28,735.19 180.39,721.25"/><path d="M146.61,710.79C143.40,730.35 176.35,742.04 188.08,725.50"/><path d="M146.61,710.79C142.44,736.22 180.69,752.48 198.80,732.98"/><path d="M146.61,710.79C141.80,740.14 182.42,759.40 205.33,738.64"/><path d="M146.61,710.79C141.15,744.05 183.25,766.18 211.30,744.81"/><path d="M146.61,710.79C140.51,747.96 183.23,772.73 216.69,751.43"/><path d="M146.61,710.79C139.87,751.87 182.41,778.97 221.44,758.45"/><path d="M146.61,710.79C139.23,755.79 180.85,784.81 225.52,765.82"/><path d="M146.61,710.79C138.59,759.70 178.61,790.19 228.90,773.50"/><path d="M146.61,710.79C134.42,785.13 153.27,810.51 232.60,826.56"/><path d="M146.61,710.79C131.00,806.00 131.00,806.00 205.33,873.36"/><path d="M146.61,710.79C131.00,806.00 131.00,806.00 142.17,901.74"/><path d="M146.61,710.79C131.00,806.00 131.00,806.00 119.83,901.74"/><path d="M146.61,710.79C138.91,757.74 90.30,774.98 50.70,744.81"/><path d="M146.61,710.79C139.23,755.79 90.19,772.07 53.61,741.67"/><path d="M146.61,710.79C139.55,753.83 90.27,769.09 56.67,738.64"/><path d="M146.61,710.79C139.87,751.87 90.56,766.06 59.87,735.74"/><path d="M146.61,710.79C140.19,749.92 91.06,762.99 63.20,732.98"/><path d="M146.61,710.79C140.51,747.96 91.78,759.88 66.66,730.34"/><path d="M146.61,710.79C140.83,746.00 92.71,756.75 70.23,727.85"/><path d="M146.61,710.79C141.15,744.05 93.86,753.62 73.92,725.50"/><path d="M146.61,710.79C141.48,742.09 95.23,750.49 77.71,723.30"/><path d="M146.61,710.79C141.80,740.14 96.83,747.37 81.61,721.25"/><path d="M146.61,710.79C142.12,738.18 98.65,744.29 85.59,719.37"/></g>
<g stroke="#A3A500" stroke-width="1.3" stroke-opacity="0.95"><path d="M151.01,711.50C135.80,783.35 106.44,802.05 28.54,789.50"/><path d="M151.01,711.50C139.09,767.81 94.45,786.78 40.56,758.45"/><path d="M151.01,711.50C139.50,765.87 93.57,784.30 42.86,754.89"/><path d="M151.01,711.50C139.91,763.93 92.85,781.70 45.31,751.43"/><path d="M151.01,711.50C140.32,761.99 92.31,779.02 47.93,748.06"/><path d="M151.01,711.50C145.26,738.69 101.55,743.06 89.66,717.64"/><path d="M151.01,711.50C145.67,736.74 103.74,740.09 93.80,716.07"/><path d="M151.01,711.50C146.08,734.80 106.15,737.19 98.01,714.67"/><path d="M151.01,711.50C146.49,732.86 108.78,734.36 102.29,713.44"/><path d="M151.01,711.50C146.90,730.92 111.62,731.62 106.61,712.39"/><path d="M151.01,711.50C147.31,728.98 114.69,728.98 110.99,711.50"/><path d="M151.01,711.50C147.72,727.03 117.96,726.44 115.39,710.79"/><path d="M151.01,711.50C148.14,725.09 121.44,724.03 119.83,710.26"/><path d="M151.01,711.50C148.55,723.15 125.12,721.75 124.29,709.90"/><path d="M151.01,711.50C148.96,721.21 128.99,719.61 128.76,709.72"/></g>
</g>
<circle cx="133.24" cy="709.72" r="2.6" fill="#E5C494"/>
<circle cx="137.71" cy="709.90" r="3.3" fill="#E5C494"/>
<circle cx="142.17" cy="710.26" r="3.0" fill="#E5C494"/>
<circle cx="146.61" cy="710.79" r="2.8" fill="#E5C494"/>
<circle cx="151.01" cy="711.50" r="2.4" fill="#E5C494"/>
<circle cx="155.39" cy="712.39" r="1.6" fill="#ffd9cb"/>
<circle cx="159.71" cy="713.44" r="1.6" fill="#e3d0ff"/>
<circle cx="163.99" cy="714.67" r="1.6" fill="#ffcdbc"/>
<circle cx="168.20" cy="716.07" r="1.6" fill="#ffaa90"/>
<circle cx="172.34" cy="717.64" r="1.6" fill="#d1b4ff"/>
<circle cx="176.41" cy="719.37" r="1.6" fill="#dec7ff"/>
<circle cx="180.39" cy="721.25" r="1.6" fill="#d7beff"/>
<circle cx="184.29" cy="723.30" r="1.6" fill="#dec7ff"/>
<circle cx="188.08" cy="725.50" r="1.6" fill="#ffd9cb"/>
<circle cx="191.77" cy="727.85" r="1.6" fill="#e6d5ff"/>
<circle cx="195.34" cy="730.34" r="1.6" fill="#d1b4ff"/>
<circle cx="198.80" cy="732.98" r="1.9" fill="#ff7352"/>
<circle cx="202.13" cy="735.74" r="1.6" fill="#d7beff"/>
<circle cx="205.33" cy="738.64" r="1.6" fill="#c4a2ff"/>
<circle cx="208.39" cy="741.67" r="1.6" fill="#d1b4ff"/>
<circle cx="211.30" cy="744.81" r="1.6" fill="#dec7ff"/>
<circle cx="214.07" cy="748.06" r="1.6" fill="#ffcdbc"/>
<circle cx="216.69" cy="751.43" r="1.6" fill="#ffcdbc"/>
<circle cx="219.14" cy="754.89" r="1.6" fill="#dec7ff"/>
<circle cx="221.44" cy="758.45" r="1.6" fill="#c4a2ff"/>
<circle cx="223.56" cy="762.10" r="1.6" fill="#dec7ff"/>
<circle cx="225.52" cy="765.82" r="1.6" fill="#d7beff"/>
<circle cx="227.30" cy="769.63" r="1.9" fill="#ff3e22"/>
<circle cx="228.90" cy="773.50" r="1.6" fill="#ffcdbc"/>
<circle cx="230.32" cy="777.43" r="1.6" fill="#d1b4ff"/>
<circle cx="231.55" cy="781.41" r="1.6" fill="#e6d5ff"/>
<circle cx="232.60" cy="785.44" r="1.6" fill="#dec7ff"/>
<circle cx="233.46" cy="789.50" r="1.6" fill="#c4a2ff"/>
<circle cx="234.13" cy="793.60" r="1.6" fill="#ffaa90"/>
<circle cx="234.62" cy="797.72" r="1.6" fill="#ffaa90"/>
<circle cx="234.90" cy="801.86" r="1.6" fill="#e6d5ff"/>
<circle cx="235.00" cy="806.00" r="1.6" fill="#d1b4ff"/>
<circle cx="234.90" cy="810.14" r="1.6" fill="#e6d5ff"/>
<circle cx="234.62" cy="814.28" r="1.6" fill="#e6d5ff"/>
<circle cx="234.13" cy="818.40" r="1.6" fill="#ffcdbc"/>
<circle cx="233.46" cy="822.50" r="1.6" fill="#d1b4ff"/>
<circle cx="232.60" cy="826.56" r="1.6" fill="#c4a2ff"/>
<circle cx="231.55" cy="830.59" r="1.6" fill="#d1b4ff"/>
<circle cx="230.32" cy="834.57" r="1.6" fill="#d7beff"/>
<circle cx="228.90" cy="838.50" r="1.6" fill="#e3d0ff"/>
<circle cx="227.30" cy="842.37" r="1.6" fill="#af87ff"/>
<circle cx="225.52" cy="846.18" r="1.6" fill="#ffcdbc"/>
<circle cx="223.56" cy="849.90" r="1.6" fill="#e3d0ff"/>
<circle cx="221.44" cy="853.55" r="1.6" fill="#d7beff"/>
<circle cx="219.14" cy="857.11" r="1.6" fill="#dec7ff"/>
<circle cx="216.69" cy="860.57" r="1.6" fill="#e6d5ff"/>
<circle cx="214.07" cy="863.94" r="1.6" fill="#af87ff"/>
<circle cx="211.30" cy="867.19" r="1.6" fill="#d7beff"/>
<circle cx="208.39" cy="870.33" r="1.6" fill="#ffaa90"/>
<circle cx="205.33" cy="873.36" r="1.6" fill="#e3d0ff"/>
<circle cx="202.13" cy="876.26" r="1.6" fill="#dec7ff"/>
<circle cx="198.80" cy="879.02" r="1.6" fill="#e6d5ff"/>
<circle cx="195.34" cy="881.66" r="1.6" fill="#e6d5ff"/>
<circle cx="191.77" cy="884.15" r="1.6" fill="#ffaa90"/>
<circle cx="188.08" cy="886.50" r="1.6" fill="#c4a2ff"/>
<circle cx="184.29" cy="888.70" r="1.6" fill="#ffd9cb"/>
<circle cx="180.39" cy="890.75" r="1.6" fill="#dec7ff"/>
<circle cx="176.41" cy="892.63" r="1.9" fill="#3117ff"/>
<circle cx="172.34" cy="894.36" r="1.6" fill="#d7beff"/>
<circle cx="168.20" cy="895.93" r="1.9" fill="#7145ff"/>
<circle cx="163.99" cy="897.33" r="1.6" fill="#dec7ff"/>
<circle cx="159.71" cy="898.56" r="1.6" fill="#e6d5ff"/>
<circle cx="155.39" cy="899.61" r="1.6" fill="#d1b4ff"/>
<circle cx="151.01" cy="900.50" r="1.6" fill="#e6d5ff"/>
<circle cx="146.61" cy="901.21" r="1.6" fill="#c4a2ff"/>
<circle cx="142.17" cy="901.74" r="1.6" fill="#ffbea8"/>
<circle cx="137.71" cy="902.10" r="1.6" fill="#ffaa90"/>
<circle cx="133.24" cy="902.28" r="1.6" fill="#d7beff"/>
<circle cx="128.76" cy="902.28" r="1.6" fill="#ffcdbc"/>
<circle cx="124.29" cy="902.10" r="1.6" fill="#ffd9cb"/>
<circle cx="119.83" cy="901.74" r="1.6" fill="#ffbea8"/>
<circle cx="115.39" cy="901.21" r="1.6" fill="#e6d5ff"/>
<circle cx="110.99" cy="900.50" r="1.6" fill="#ffbea8"/>
<circle cx="106.61" cy="899.61" r="1.6" fill="#ffd9cb"/>
<circle cx="102.29" cy="898.56" r="1.6" fill="#af87ff"/>
<circle cx="98.01" cy="897.33" r="1.6" fill="#c4a2ff"/>
<circle cx="93.80" cy="895.93" r="1.6" fill="#e3d0ff"/>
<circle cx="89.66" cy="894.36" r="1.6" fill="#c4a2ff"/>
<circle cx="85.59" cy="892.63" r="1.6" fill="#dec7ff"/>
<circle cx="81.61" cy="890.75" r="1.9" fill="#653bff"/>
<circle cx="77.71" cy="888.70" r="1.6" fill="#e6d5ff"/>
<circle cx="73.92" cy="886.50" r="1.6" fill="#af87ff"/>
<circle cx="70.23" cy="884.15" r="1.6" fill="#d7beff"/>
<circle cx="66.66" cy="881.66" r="1.6" fill="#ffbea8"/>
<circle cx="63.20" cy="879.02" r="1.6" fill="#ffd9cb"/>
<circle cx="59.87" cy="876.26" r="1.6" fill="#ffbea8"/>
<circle cx="56.67" cy="873.36" r="1.6" fill="#af87ff"/>
<circle cx="53.61" cy="870.33" r="1.6" fill="#e6d5ff"/>
<circle cx="50.70" cy="867.19" r="1.6" fill="#dec7ff"/>
<circle cx="47.93" cy="863.94" r="1.6" fill="#dec7ff"/>
<circle cx="45.31" cy="860.57" r="1.6" fill="#d7beff"/>
<circle cx="42.86" cy="857.11" r="1.6" fill="#ffcdbc"/>
<circle cx="40.56" cy="853.55" r="1.6" fill="#e3d0ff"/>
<circle cx="38.44" cy="849.90" r="1.6" fill="#ffd9cb"/>
<circle cx="36.48" cy="846.18" r="1.6" fill="#e3d0ff"/>
<circle cx="34.70" cy="842.37" r="1.6" fill="#ffbea8"/>
<circle cx="33.10" cy="838.50" r="1.6" fill="#ffcdbc"/>
<circle cx="31.68" cy="834.57" r="1.6" fill="#d1b4ff"/>
<circle cx="30.45" cy="830.59" r="1.9" fill="#7145ff"/>
<circle cx="29.40" cy="826.56" r="1.6" fill="#ffaa90"/>
<circle cx="28.54" cy="822.50" r="1.6" fill="#dec7ff"/>
<circle cx="27.87" cy="818.40" r="1.6" fill="#d7beff"/>
<circle cx="27.38" cy="814.28" r="1.6" fill="#e6d5ff"/>
<circle cx="27.10" cy="810.14" r="1.6" fill="#ffd9cb"/>
<circle cx="27.00" cy="806.00" r="1.6" fill="#ffd9cb"/>
<circle cx="27.10" cy="801.86" r="1.9" fill="#502bff"/>
<circle cx="27.38" cy="797.72" r="1.6" fill="#ffd9cb"/>
<circle cx="27.87" cy="793.60" r="1.6" fill="#e6d5ff"/>
<circle cx="28.54" cy="789.50" r="1.6" fill="#ffbea8"/>
<circle cx="29.40" cy="785.44" r="1.6" fill="#e6d5ff"/>
<circle cx="30.45" cy="781.41" r="1.6" fill="#ffbea8"/>
<circle cx="31.68" cy="777.43" r="1.9" fill="#ff0000"/>
<circle cx="33.10" cy="773.50" r="1.9" fill="#0000ff"/>
<circle cx="34.70" cy="769.63" r="1.6" fill="#dec7ff"/>
<circle cx="36.48" cy="765.82" r="1.6" fill="#dec7ff"/>
<circle cx="38.44" cy="762.10" r="1.6" fill="#af87ff"/>
<circle cx="40.56" cy="758.45" r="1.6" fill="#ffbea8"/>
<circle cx="42.86" cy="754.89" r="1.6" fill="#ffaa90"/>
<circle cx="45.31" cy="751.43" r="1.6" fill="#dec7ff"/>
<circle cx="47.93" cy="748.06" r="1.6" fill="#d1b4ff"/>
<circle cx="50.70" cy="744.81" r="1.6" fill="#af87ff"/>
<circle cx="53.61" cy="741.67" r="1.6" fill="#ffaa90"/>
<circle cx="56.67" cy="738.64" r="1.6" fill="#e6d5ff"/>
<circle cx="59.87" cy="735.74" r="1.6" fill="#ffaa90"/>
<circle cx="63.20" cy="732.98" r="1.6" fill="#ffbea8"/>
<circle cx="66.66" cy="730.34" r="1.9" fill="#ff6544"/>
<circle cx="70.23" cy="727.85" r="1.6" fill="#af87ff"/>
<circle cx="73.92" cy="725.50" r="1.6" fill="#ffcdbc"/>
<circle cx="77.71" cy="723.30" r="1.6" fill="#ffaa90"/>
<circle cx="81.61" cy="721.25" r="1.6" fill="#ffd9cb"/>
<circle cx="85.59" cy="719.37" r="1.6" fill="#d1b4ff"/>
<circle cx="89.66" cy="717.64" r="1.6" fill="#ffbea8"/>
<circle cx="93.80" cy="716.07" r="1.6" fill="#ffd9cb"/>
<circle cx="98.01" cy="714.67" r="1.6" fill="#e3d0ff"/>
<circle cx="102.29" cy="713.44" r="1.6" fill="#e6d5ff"/>
<circle cx="106.61" cy="712.39" r="1.9" fill="#8a5dff"/>
<circle cx="110.99" cy="711.50" r="1.6" fill="#dec7ff"/>
<circle cx="115.39" cy="710.79" r="1.6" fill="#ffbea8"/>
<circle cx="119.83" cy="710.26" r="1.6" fill="#d1b4ff"/>
<circle cx="124.29" cy="709.90" r="1.6" fill="#c4a2ff"/>
<circle cx="128.76" cy="709.72" r="1.6" fill="#af87ff"/>
<text x="278.40" y="21.40" font-size="11.5" text-anchor="start" fill="#1a1a1a" color="#1a1a1a" letter-spacing="0.1">category</text>
<line x1="278.9" y1="32.60" x2="289.4" y2="32.60" stroke="#F8766D" stroke-width="1.4" stroke-opacity="0.85"/>
<text x="307.00" y="35.70" font-size="11.5" text-anchor="start" fill="#1a1a1a" color="#1a1a1a" letter-spacing="0.1">regulation of phosphorylation</text>
<line x1="278.9" y1="49.95" x2="289.4" y2="49.95" stroke="#A3A500" stroke-width="1.4" stroke-opacity="0.85"/>
<text x="307.00" y="53.05" font-size="11.5" text-anchor="start" fill="#1a1a1a" color="#1a1a1a" letter-spacing="0.1">regulation of protein phosphorylation</text>
<line x1="278.9" y1="67.30" x2="289.4" y2="67.30" stroke="#00BF7D" stroke-width="1.4" stroke-opacity="0.85"/>
<text x="307.00" y="70.40" font-size="11.5" text-anchor="start" fill="#1a1a1a" color="#1a1a1a" letter-spacing="0.1">regulation of smooth muscle cell proliferation</text>
<line x1="278.9" y1="84.65" x2="289.4" y2="84.65" stroke="#00B0F6" stroke-width="1.4" stroke-opacity="0.85"/>
<text x="307.00" y="87.75" font-size="11.5" text-anchor="start" fill="#1a1a1a" color="#1a1a1a" letter-spacing="0.1">regulation of vascular associated smooth muscle cell proliferation</text>
<line x1="278.9" y1="102.00" x2="289.4" y2="102.00" stroke="#E76BF3" stroke-width="1.4" stroke-opacity="0.85"/>
<text x="307.00" y="105.10" font-size="11.5" text-anchor="start" fill="#1a1a1a" color="#1a1a1a" letter-spacing="0.1">transforming growth factor beta receptor signaling pathway</text>
<text x="278.40" y="765.60" font-size="11.5" text-anchor="start" fill="#1a1a1a" color="#1a1a1a" letter-spacing="0.1">category</text>
<line x1="278.9" y1="778.50" x2="289.4" y2="778.50" stroke="#F8766D" stroke-width="1.4" stroke-opacity="0.85"/>
<text x="307.00" y="781.60" font-size="11.5" text-anchor="start" fill="#1a1a1a" color="#1a1a1a" letter-spacing="0.1">Apoptosis</text>
<line x1="278.9" y1="795.75" x2="289.4" y2="795.75" stroke="#A3A500" stroke-width="1.4" stroke-opacity="0.85"/>
<text x="307.00" y="798.85" font-size="11.5" text-anchor="start" fill="#1a1a1a" color="#1a1a1a" letter-spacing="0.1">Base excision repair</text>
<line x1="278.9" y1="813.00" x2="289.4" y2="813.00" stroke="#00BF7D" stroke-width="1.4" stroke-opacity="0.85"/>
<text x="307.00" y="816.10" font-size="11.5" text-anchor="start" fill="#1a1a1a" color="#1a1a1a" letter-spacing="0.1">Cell cycle</text>
<line x1="278.9" y1="830.25" x2="289.4" y2="830.25" stroke="#00B0F6" stroke-width="1.4" stroke-opacity="0.85"/>
<text x="307.00" y="833.35" font-size="11.5" text-anchor="start" fill="#1a1a1a" color="#1a1a1a" letter-spacing="0.1">Pathway in cancer</text>
<line x1="278.9" y1="847.50" x2="289.4" y2="847.50" stroke="#E76BF3" stroke-width="1.4" stroke-opacity="0.85"/>
<text x="307.00" y="850.60" font-size="11.5" text-anchor="start" fill="#1a1a1a" color="#1a1a1a" letter-spacing="0.1">p53 signaling pathway</text>
<text x="279.10" y="128.30" font-size="11.5" text-anchor="start" fill="#1a1a1a" color="#1a1a1a" letter-spacing="0.1">fold change</text>
<defs><linearGradient id="gA" x1="0" y1="0" x2="0" y2="1"><stop offset="0.000" stop-color="#ff0000"/><stop offset="0.042" stop-color="#ff331a"/><stop offset="0.083" stop-color="#ff4c2d"/><stop offset="0.125" stop-color="#ff5f3e"/><stop offset="0.167" stop-color="#ff704f"/><stop offset="0.208" stop-color="#ff8060"/><stop offset="0.250" stop-color="#ff9071"/><stop offset="0.292" stop-color="#ff9f82"/><stop offset="0.333" stop-color="#ffad93"/><stop offset="0.375" stop-color="#ffbba5"/><stop offset="0.417" stop-color="#ffc9b7"/><stop offset="0.458" stop-color="#ffd7c9"/><stop offset="0.500" stop-color="#ffe5db"/><stop offset="0.542" stop-color="#fff2ee"/><stop offset="0.583" stop-color="#fefeff"/><stop offset="0.625" stop-color="#f5edff"/><stop offset="0.667" stop-color="#ebdcff"/><stop offset="0.708" stop-color="#e0cbff"/><stop offset="0.750" stop-color="#d5bbff"/><stop offset="0.792" stop-color="#caaaff"/><stop offset="0.833" stop-color="#be9aff"/><stop offset="0.875" stop-color="#b189ff"/><stop offset="0.917" stop-color="#a479ff"/><stop offset="0.958" stop-color="#9568ff"/><stop offset="1.000" stop-color="#8558ff"/></linearGradient></defs>
<rect x="279.1" y="137.9" width="13.5" height="67.6" fill="url(#gA)"/>
<line x1="279.1" y1="140.6" x2="281.8" y2="140.6" stroke="#fff" stroke-width="0.6"/><line x1="289.9" y1="140.6" x2="292.6" y2="140.6" stroke="#fff" stroke-width="0.6"/>
<text x="306.40" y="144.60" font-size="11.5" text-anchor="start" fill="#1a1a1a" color="#1a1a1a">8</text>
<line x1="279.1" y1="158.6" x2="281.8" y2="158.6" stroke="#fff" stroke-width="0.6"/><line x1="289.9" y1="158.6" x2="292.6" y2="158.6" stroke="#fff" stroke-width="0.6"/>
<text x="306.40" y="162.60" font-size="11.5" text-anchor="start" fill="#1a1a1a" color="#1a1a1a">4</text>
<line x1="279.1" y1="176.6" x2="281.8" y2="176.6" stroke="#fff" stroke-width="0.6"/><line x1="289.9" y1="176.6" x2="292.6" y2="176.6" stroke="#fff" stroke-width="0.6"/>
<text x="306.40" y="180.60" font-size="11.5" text-anchor="start" fill="#1a1a1a" color="#1a1a1a">0</text>
<line x1="279.1" y1="194.6" x2="281.8" y2="194.6" stroke="#fff" stroke-width="0.6"/><line x1="289.9" y1="194.6" x2="292.6" y2="194.6" stroke="#fff" stroke-width="0.6"/>
<text x="306.40" y="198.60" font-size="11.5" text-anchor="start" fill="#1a1a1a" color="#1a1a1a">-4</text>
<text x="391.30" y="128.30" font-size="11.5" text-anchor="start" fill="#1a1a1a" color="#1a1a1a" letter-spacing="0.1">size</text>
<circle cx="396.1" cy="141.8" r="4.1" fill="#000"/>
<text x="415.20" y="145.40" font-size="11.5" text-anchor="start" fill="#1a1a1a" color="#1a1a1a">10</text>
<circle cx="396.1" cy="154.6" r="4.75" fill="#000"/>
<text x="415.20" y="158.20" font-size="11.5" text-anchor="start" fill="#1a1a1a" color="#1a1a1a">20</text>
<circle cx="396.1" cy="168.9" r="5.35" fill="#000"/>
<text x="415.20" y="172.50" font-size="11.5" text-anchor="start" fill="#1a1a1a" color="#1a1a1a">30</text>
<circle cx="396.1" cy="184.1" r="5.9" fill="#000"/>
<text x="415.20" y="187.70" font-size="11.5" text-anchor="start" fill="#1a1a1a" color="#1a1a1a">40</text>
<circle cx="396.1" cy="200.3" r="6.4" fill="#000"/>
<text x="415.20" y="203.90" font-size="11.5" text-anchor="start" fill="#1a1a1a" color="#1a1a1a">50</text>
<text x="506.20" y="765.90" font-size="11.5" text-anchor="start" fill="#1a1a1a" color="#1a1a1a" letter-spacing="0.1">fold change</text>
<defs><linearGradient id="gC" x1="0" y1="0" x2="0" y2="1"><stop offset="0.000" stop-color="#ff0000"/><stop offset="0.042" stop-color="#ff381d"/><stop offset="0.083" stop-color="#ff5232"/><stop offset="0.125" stop-color="#ff6846"/><stop offset="0.167" stop-color="#ff7b5a"/><stop offset="0.208" stop-color="#ff8d6d"/><stop offset="0.250" stop-color="#ff9e81"/><stop offset="0.292" stop-color="#ffaf95"/><stop offset="0.333" stop-color="#ffbfaa"/><stop offset="0.375" stop-color="#ffcfbf"/><stop offset="0.417" stop-color="#ffdfd4"/><stop offset="0.458" stop-color="#ffefe9"/><stop offset="0.500" stop-color="#ffffff"/><stop offset="0.542" stop-color="#f4ebff"/><stop offset="0.583" stop-color="#e8d8ff"/><stop offset="0.625" stop-color="#dcc4ff"/><stop offset="0.667" stop-color="#cfb1ff"/><stop offset="0.708" stop-color="#c19eff"/><stop offset="0.750" stop-color="#b38bff"/><stop offset="0.792" stop-color="#a378ff"/><stop offset="0.833" stop-color="#9265ff"/><stop offset="0.875" stop-color="#7e52ff"/><stop offset="0.917" stop-color="#673dff"/><stop offset="0.958" stop-color="#4926ff"/><stop offset="1.000" stop-color="#0000ff"/></linearGradient></defs>
<rect x="506.2" y="774.5" width="11.1" height="66.89999999999998" fill="url(#gC)"/>
<text x="534.00" y="779.40" font-size="11.5" text-anchor="start" fill="#1a1a1a" color="#1a1a1a">5.0</text>
<text x="534.00" y="795.70" font-size="11.5" text-anchor="start" fill="#1a1a1a" color="#1a1a1a">2.5</text>
<text x="534.00" y="811.90" font-size="11.5" text-anchor="start" fill="#1a1a1a" color="#1a1a1a">0.0</text>
<text x="534.00" y="828.30" font-size="11.5" text-anchor="start" fill="#1a1a1a" color="#1a1a1a">-2.5</text>
<text x="534.00" y="844.60" font-size="11.5" text-anchor="start" fill="#1a1a1a" color="#1a1a1a">-5.0</text>
<line x1="506.2" y1="776.0" x2="508.6" y2="776.0" stroke="#fff" stroke-width="0.6"/><line x1="514.9" y1="776.0" x2="517.3" y2="776.0" stroke="#fff" stroke-width="0.6"/>
<line x1="506.2" y1="792.4" x2="508.6" y2="792.4" stroke="#fff" stroke-width="0.6"/><line x1="514.9" y1="792.4" x2="517.3" y2="792.4" stroke="#fff" stroke-width="0.6"/>
<line x1="506.2" y1="808.7" x2="508.6" y2="808.7" stroke="#fff" stroke-width="0.6"/><line x1="514.9" y1="808.7" x2="517.3" y2="808.7" stroke="#fff" stroke-width="0.6"/>
<line x1="506.2" y1="825.0" x2="508.6" y2="825.0" stroke="#fff" stroke-width="0.6"/><line x1="514.9" y1="825.0" x2="517.3" y2="825.0" stroke="#fff" stroke-width="0.6"/>
<line x1="506.2" y1="841.0" x2="508.6" y2="841.0" stroke="#fff" stroke-width="0.6"/><line x1="514.9" y1="841.0" x2="517.3" y2="841.0" stroke="#fff" stroke-width="0.6"/>
<text x="616.70" y="767.70" font-size="11.5" text-anchor="start" fill="#1a1a1a" color="#1a1a1a" letter-spacing="0.1">size</text>
<circle cx="621.5" cy="777.9" r="4.0" fill="#000"/>
<text x="641.80" y="781.90" font-size="11.5" text-anchor="start" fill="#1a1a1a" color="#1a1a1a">30</text>
<circle cx="621.5" cy="790.8" r="4.75" fill="#000"/>
<text x="641.80" y="794.80" font-size="11.5" text-anchor="start" fill="#1a1a1a" color="#1a1a1a">50</text>
<circle cx="621.5" cy="804.8" r="5.45" fill="#000"/>
<text x="641.80" y="808.80" font-size="11.5" text-anchor="start" fill="#1a1a1a" color="#1a1a1a">70</text>
<text x="0" y="0" font-size="16.6" font-weight="bold" fill="#000" style="stroke:none" transform="translate(2.90 13.50) scale(0.95 1)">A</text>
<text x="0" y="0" font-size="16.6" font-weight="bold" fill="#000" style="stroke:none" transform="translate(2.50 719.00) scale(0.95 1)">C</text>
<line x1="115.35" y1="965.8" x2="115.35" y2="1030.2" stroke="#e6e6e6" stroke-width="0.9"/>
<line x1="115.35" y1="1057.6" x2="115.35" y2="1093.3" stroke="#e6e6e6" stroke-width="0.9"/>
<line x1="170.10" y1="965.8" x2="170.10" y2="1030.2" stroke="#e6e6e6" stroke-width="0.9"/>
<line x1="170.10" y1="1057.6" x2="170.10" y2="1093.3" stroke="#e6e6e6" stroke-width="0.9"/>
<line x1="224.85" y1="965.8" x2="224.85" y2="1030.2" stroke="#e6e6e6" stroke-width="0.9"/>
<line x1="224.85" y1="1057.6" x2="224.85" y2="1093.3" stroke="#e6e6e6" stroke-width="0.9"/>
<line x1="279.60" y1="965.8" x2="279.60" y2="1030.2" stroke="#e6e6e6" stroke-width="0.9"/>
<line x1="279.60" y1="1057.6" x2="279.60" y2="1093.3" stroke="#e6e6e6" stroke-width="0.9"/>
<line x1="334.35" y1="965.8" x2="334.35" y2="1030.2" stroke="#e6e6e6" stroke-width="0.9"/>
<line x1="334.35" y1="1057.6" x2="334.35" y2="1093.3" stroke="#e6e6e6" stroke-width="0.9"/>
<line x1="60.6" y1="1074.4" x2="358.0" y2="1074.4" stroke="#d9d9d9" stroke-width="0.9"/>
<path d="M60.6,1074.4 L60.60,1067.38 L61.59,1070.43 L62.58,1071.77 L63.57,1072.37 L64.57,1072.65 L65.56,1072.79 L66.55,1072.87 L67.54,1072.92 L68.53,1072.96 L69.52,1072.99 L70.51,1073.02 L71.50,1073.05 L72.50,1073.08 L73.49,1073.10 L74.48,1073.13 L75.47,1073.16 L76.46,1073.18 L77.45,1073.21 L78.44,1073.23 L79.44,1073.26 L80.43,1073.28 L81.42,1073.30 L82.41,1073.33 L83.40,1073.35 L84.39,1073.37 L85.38,1073.39 L86.37,1073.41 L87.37,1073.43 L88.36,1073.45 L89.35,1073.47 L90.34,1073.49 L91.33,1073.51 L92.32,1073.53 L93.31,1073.55 L94.31,1073.56 L95.30,1073.58 L96.29,1073.60 L97.28,1073.62 L98.27,1073.63 L99.26,1073.65 L100.25,1073.66 L101.24,1073.68 L102.24,1073.69 L103.23,1073.71 L104.22,1073.72 L105.21,1073.74 L106.20,1073.75 L107.19,1073.77 L108.18,1073.78 L109.18,1073.79 L110.17,1073.81 L111.16,1073.82 L112.15,1073.83 L113.14,1073.84 L114.13,1073.85 L115.12,1073.87 L116.11,1073.88 L117.11,1073.89 L118.10,1073.90 L119.09,1073.91 L120.08,1073.92 L121.07,1073.93 L122.06,1073.94 L123.05,1073.95 L124.05,1073.96 L125.04,1073.97 L126.03,1073.98 L127.02,1073.99 L128.01,1074.00 L129.00,1074.01 L129.99,1074.02 L130.98,1074.03 L131.98,1074.04 L132.97,1074.05 L133.96,1074.05 L134.95,1074.06 L135.94,1074.07 L136.93,1074.08 L137.92,1074.09 L138.92,1074.09 L139.91,1074.10 L140.90,1074.11 L141.89,1074.12 L142.88,1074.12 L143.87,1074.13 L144.86,1074.14 L145.85,1074.14 L146.85,1074.15 L147.84,1074.16 L148.83,1074.17 L149.82,1074.17 L150.81,1074.18 L151.80,1074.18 L152.79,1074.19 L153.79,1074.20 L154.78,1074.20 L155.77,1074.21 L156.76,1074.21 L157.75,1074.22 L158.74,1074.23 L159.73,1074.23 L160.72,1074.24 L161.72,1074.24 L162.71,1074.25 L163.70,1074.25 L164.69,1074.26 L165.68,1074.26 L166.67,1074.27 L167.66,1074.27 L168.66,1074.28 L169.65,1074.28 L170.64,1074.29 L171.63,1074.29 L172.62,1074.30 L173.61,1074.30 L174.60,1074.31 L175.59,1074.31 L176.59,1074.32 L177.58,1074.32 L178.57,1074.33 L179.56,1074.33 L180.55,1074.34 L181.54,1074.34 L182.53,1074.35 L183.53,1074.35 L184.52,1074.35 L185.51,1074.36 L186.50,1074.36 L187.49,1074.37 L188.48,1074.37 L189.47,1074.38 L190.46,1074.38 L191.46,1074.38 L192.45,1074.39 L193.44,1074.39 L194.43,1074.40 L195.42,1074.40 L196.41,1074.40 L197.40,1074.41 L198.40,1074.41 L199.39,1074.42 L200.38,1074.42 L201.37,1074.42 L202.36,1074.43 L203.35,1074.43 L204.34,1074.43 L205.33,1074.44 L206.33,1074.44 L207.32,1074.45 L208.31,1074.45 L209.30,1074.45 L210.29,1074.46 L211.28,1074.46 L212.27,1074.47 L213.27,1074.47 L214.26,1074.47 L215.25,1074.48 L216.24,1074.48 L217.23,1074.48 L218.22,1074.49 L219.21,1074.49 L220.20,1074.49 L221.20,1074.50 L222.19,1074.50 L223.18,1074.51 L224.17,1074.51 L225.16,1074.51 L226.15,1074.52 L227.14,1074.52 L228.14,1074.52 L229.13,1074.53 L230.12,1074.53 L231.11,1074.54 L232.10,1074.54 L233.09,1074.54 L234.08,1074.55 L235.07,1074.55 L236.07,1074.55 L237.06,1074.56 L238.05,1074.56 L239.04,1074.57 L240.03,1074.57 L241.02,1074.57 L242.01,1074.58 L243.01,1074.58 L244.00,1074.59 L244.99,1074.59 L245.98,1074.59 L246.97,1074.60 L247.96,1074.60 L248.95,1074.61 L249.94,1074.61 L250.94,1074.61 L251.93,1074.62 L252.92,1074.62 L253.91,1074.63 L254.90,1074.63 L255.89,1074.63 L256.88,1074.64 L257.88,1074.64 L258.87,1074.65 L259.86,1074.65 L260.85,1074.66 L261.84,1074.66 L262.83,1074.66 L263.82,1074.67 L264.81,1074.67 L265.81,1074.68 L266.80,1074.68 L267.79,1074.69 L268.78,1074.69 L269.77,1074.70 L270.76,1074.70 L271.75,1074.71 L272.75,1074.71 L273.74,1074.72 L274.73,1074.72 L275.72,1074.73 L276.71,1074.73 L277.70,1074.74 L278.69,1074.74 L279.68,1074.75 L280.68,1074.75 L281.67,1074.76 L282.66,1074.76 L283.65,1074.77 L284.64,1074.77 L285.63,1074.78 L286.62,1074.78 L287.62,1074.79 L288.61,1074.80 L289.60,1074.80 L290.59,1074.81 L291.58,1074.81 L292.57,1074.82 L293.56,1074.83 L294.55,1074.83 L295.55,1074.84 L296.54,1074.85 L297.53,1074.85 L298.52,1074.86 L299.51,1074.87 L300.50,1074.87 L301.49,1074.88 L302.49,1074.89 L303.48,1074.89 L304.47,1074.90 L305.46,1074.91 L306.45,1074.92 L307.44,1074.93 L308.43,1074.93 L309.42,1074.94 L310.42,1074.95 L311.41,1074.96 L312.40,1074.97 L313.39,1074.98 L314.38,1074.99 L315.37,1075.00 L316.36,1075.01 L317.36,1075.02 L318.35,1075.03 L319.34,1075.05 L320.33,1075.06 L321.32,1075.07 L322.31,1075.09 L323.30,1075.10 L324.29,1075.12 L325.29,1075.14 L326.28,1075.15 L327.27,1075.17 L328.26,1075.19 L329.25,1075.22 L330.24,1075.24 L331.23,1075.26 L332.23,1075.29 L333.22,1075.32 L334.21,1075.35 L335.20,1075.39 L336.19,1075.43 L337.18,1075.47 L338.17,1075.51 L339.16,1075.56 L340.16,1075.62 L341.15,1075.68 L342.14,1075.74 L343.13,1075.82 L344.12,1075.90 L345.11,1075.99 L346.10,1076.09 L347.10,1076.21 L348.09,1076.34 L349.08,1076.51 L350.07,1076.71 L351.06,1076.97 L352.05,1077.32 L353.04,1077.82 L354.03,1078.56 L355.03,1079.72 L356.02,1081.59 L357.01,1084.68 L358.00,1089.87 L358.0,1074.4 Z" fill="#c4c4c4" stroke="#b8b8b8" stroke-width="0.6"/>
<rect x="60.90" y="1049.9" width="12.80" height="7.70" fill="#D93A31"/>
<rect x="73.70" y="1049.9" width="16.70" height="7.70" fill="#EF6B53"/>
<rect x="90.40" y="1049.9" width="11.10" height="7.70" fill="#F5A68C"/>
<rect x="101.50" y="1049.9" width="24.40" height="7.70" fill="#FCDCCB"/>
<rect x="125.90" y="1049.9" width="33.10" height="7.70" fill="#EAEFF9"/>
<rect x="159.00" y="1049.9" width="35.00" height="7.70" fill="#C2D9EC"/>
<rect x="194.00" y="1049.9" width="68.50" height="7.70" fill="#88B9DD"/>
<rect x="262.50" y="1049.9" width="75.00" height="7.70" fill="#4C8DC5"/>
<rect x="337.50" y="1049.9" width="20.50" height="7.70" fill="#2162A8"/>
<path d="M80.50,1030.7V1049.9M81.30,1030.7V1049.9M82.20,1030.7V1049.9M92.10,1030.7V1049.9M113.00,1030.7V1049.9M135.20,1030.7V1049.9M156.90,1030.7V1049.9M176.00,1030.7V1049.9M199.60,1030.7V1049.9M206.00,1030.7V1049.9M224.90,1030.7V1049.9M233.00,1030.7V1049.9M243.20,1030.7V1049.9M248.40,1030.7V1049.9M259.60,1030.7V1049.9M262.50,1030.7V1049.9M281.80,1030.7V1049.9M291.00,1030.7V1049.9M292.20,1030.7V1049.9M293.40,1030.7V1049.9M298.20,1030.7V1049.9M310.50,1030.7V1049.9M316.20,1030.7V1049.9M322.50,1030.7V1049.9M326.00,1030.7V1049.9M327.20,1030.7V1049.9M328.40,1030.7V1049.9M338.50,1030.7V1049.9M340.60,1030.7V1049.9M343.20,1030.7V1049.9M345.00,1030.7V1049.9M354.50,1030.7V1049.9M355.50,1030.7V1049.9M356.50,1030.7V1049.9M357.40,1030.7V1049.9" stroke="#000" stroke-width="1.3" fill="none"/>
<path d="M60.90,968.80 L80.50,975.60 L81.30,971.80 L82.20,969.90 L90.70,973.00 L92.10,970.30 L112.70,977.90 L114.00,976.20 L134.60,983.70 L135.40,982.00 L156.40,989.00 L157.20,987.50 L176.00,994.30 L176.80,993.00 L199.60,1001.60 L200.30,1000.40 L205.70,1003.40 L206.40,1002.30 L224.90,1009.80 L225.60,1008.80 L232.80,1011.50 L233.50,1010.60 L247.40,1015.80 L248.40,1014.90 L259.60,1018.80 L262.30,1019.30 L281.40,1024.60 L282.00,1023.60 L291.00,1027.60 L293.10,1023.30 L298.40,1023.30 L310.00,1027.20 L310.80,1025.60 L317.50,1024.60 L322.80,1026.10 L326.00,1022.90 L328.10,1012.70 L333.40,1015.50 L337.60,1011.90 L340.80,1010.60 L342.00,1007.60 L345.10,999.10 L354.60,1002.80 L356.10,993.20 L356.60,982.60 L357.80,968.20" stroke="#00ff00" stroke-width="2.7" fill="none" stroke-linejoin="round"/>
<line x1="60.6" y1="965.8" x2="60.6" y2="1093.8999999999999" stroke="#000" stroke-width="1.15"/>
<line x1="60.0" y1="1093.3" x2="358.0" y2="1093.3" stroke="#000" stroke-width="1.2"/>
<line x1="58.0" y1="969.00" x2="60.6" y2="969.00" stroke="#333" stroke-width="0.9"/>
<text x="56.30" y="972.90" font-size="11.0" text-anchor="end" fill="#1a1a1a" color="#1a1a1a">0.0</text>
<line x1="58.0" y1="988.60" x2="60.6" y2="988.60" stroke="#333" stroke-width="0.9"/>
<text x="56.30" y="992.50" font-size="11.0" text-anchor="end" fill="#1a1a1a" color="#1a1a1a">-0.2</text>
<line x1="58.0" y1="1008.20" x2="60.6" y2="1008.20" stroke="#333" stroke-width="0.9"/>
<text x="56.30" y="1012.10" font-size="11.0" text-anchor="end" fill="#1a1a1a" color="#1a1a1a">-0.4</text>
<line x1="58.0" y1="1027.80" x2="60.6" y2="1027.80" stroke="#333" stroke-width="0.9"/>
<text x="56.30" y="1031.70" font-size="11.0" text-anchor="end" fill="#1a1a1a" color="#1a1a1a">-0.6</text>
<line x1="58.0" y1="1059.20" x2="60.6" y2="1059.20" stroke="#333" stroke-width="0.9"/>
<text x="56.30" y="1063.10" font-size="11.0" text-anchor="end" fill="#1a1a1a" color="#1a1a1a">10</text>
<line x1="58.0" y1="1066.80" x2="60.6" y2="1066.80" stroke="#333" stroke-width="0.9"/>
<text x="56.30" y="1070.70" font-size="11.0" text-anchor="end" fill="#1a1a1a" color="#1a1a1a">5</text>
<line x1="58.0" y1="1074.40" x2="60.6" y2="1074.40" stroke="#333" stroke-width="0.9"/>
<text x="56.30" y="1078.30" font-size="11.0" text-anchor="end" fill="#1a1a1a" color="#1a1a1a">0</text>
<line x1="58.0" y1="1082.00" x2="60.6" y2="1082.00" stroke="#333" stroke-width="0.9"/>
<text x="56.30" y="1085.90" font-size="11.0" text-anchor="end" fill="#1a1a1a" color="#1a1a1a">-5</text>
<line x1="58.0" y1="1089.60" x2="60.6" y2="1089.60" stroke="#333" stroke-width="0.9"/>
<text x="56.30" y="1093.50" font-size="11.0" text-anchor="end" fill="#1a1a1a" color="#1a1a1a">-10</text>
<line x1="170.10" y1="1093.3" x2="170.10" y2="1095.8" stroke="#333" stroke-width="0.9"/>
<text x="170.10" y="1105.30" font-size="11.0" text-anchor="middle" fill="#1a1a1a" color="#1a1a1a">5000</text>
<line x1="279.60" y1="1093.3" x2="279.60" y2="1095.8" stroke="#333" stroke-width="0.9"/>
<text x="279.60" y="1105.30" font-size="11.0" text-anchor="middle" fill="#1a1a1a" color="#1a1a1a">10000</text>
<text x="202.82" y="1115.00" font-size="10.9" text-anchor="middle" fill="#1a1a1a" color="#1a1a1a" letter-spacing="0.249">Rank in Ordered Dataset</text>
<text x="8.90" y="1026.00" font-size="10.7" text-anchor="start" fill="#1a1a1a" color="#1a1a1a" letter-spacing="0.32" transform="rotate(-90 8.90 1026.00)">Running</text>
<text x="21.00" y="1026.00" font-size="10.7" text-anchor="start" fill="#1a1a1a" color="#1a1a1a" letter-spacing="0.468" transform="rotate(-90 21.00 1026.00)">Enrichment</text>
<text x="33.10" y="1026.00" font-size="10.7" text-anchor="start" fill="#1a1a1a" color="#1a1a1a" letter-spacing="0.35" transform="rotate(-90 33.10 1026.00)">Score</text>
<text x="8.90" y="1089.90" font-size="10.7" text-anchor="start" fill="#1a1a1a" color="#1a1a1a" letter-spacing="0.17" transform="rotate(-90 8.90 1089.90)">Ranked</text>
<text x="21.00" y="1089.90" font-size="10.7" text-anchor="start" fill="#1a1a1a" color="#1a1a1a" letter-spacing="0.037" transform="rotate(-90 21.00 1089.90)">List</text>
<text x="33.10" y="1089.90" font-size="10.7" text-anchor="start" fill="#1a1a1a" color="#1a1a1a" letter-spacing="0.195" transform="rotate(-90 33.10 1089.90)">Metric</text>
<text x="62.00" y="959.90" font-size="10.5" text-anchor="start" fill="#1a1a1a" color="#1a1a1a" letter-spacing="0.609">collagen trimer</text>
<text x="281.90" y="970.80" font-size="10.0" text-anchor="start" fill="#1a1a1a" color="#1a1a1a" letter-spacing="0.744">p=0.002954</text>
<text x="281.90" y="986.30" font-size="10.0" text-anchor="start" fill="#1a1a1a" color="#1a1a1a" letter-spacing="0.821">NES=-1.699</text>
<text x="0" y="0" font-size="16.6" font-weight="bold" fill="#000" style="stroke:none" transform="translate(2.60 957.90) scale(0.95 1)">D</text>
<line x1="504.90" y1="965.5" x2="504.90" y2="1029.8" stroke="#e6e6e6" stroke-width="0.9"/>
<line x1="504.90" y1="1057.6" x2="504.90" y2="1092.9" stroke="#e6e6e6" stroke-width="0.9"/>
<line x1="559.50" y1="965.5" x2="559.50" y2="1029.8" stroke="#e6e6e6" stroke-width="0.9"/>
<line x1="559.50" y1="1057.6" x2="559.50" y2="1092.9" stroke="#e6e6e6" stroke-width="0.9"/>
<line x1="614.10" y1="965.5" x2="614.10" y2="1029.8" stroke="#e6e6e6" stroke-width="0.9"/>
<line x1="614.10" y1="1057.6" x2="614.10" y2="1092.9" stroke="#e6e6e6" stroke-width="0.9"/>
<line x1="668.70" y1="965.5" x2="668.70" y2="1029.8" stroke="#e6e6e6" stroke-width="0.9"/>
<line x1="668.70" y1="1057.6" x2="668.70" y2="1092.9" stroke="#e6e6e6" stroke-width="0.9"/>
<line x1="723.30" y1="965.5" x2="723.30" y2="1029.8" stroke="#e6e6e6" stroke-width="0.9"/>
<line x1="723.30" y1="1057.6" x2="723.30" y2="1092.9" stroke="#e6e6e6" stroke-width="0.9"/>
<line x1="450.3" y1="1074.0" x2="748.5" y2="1074.0" stroke="#d9d9d9" stroke-width="0.9"/>
<path d="M450.3,1074.0 L450.30,1066.98 L451.29,1070.03 L452.29,1071.37 L453.28,1071.97 L454.28,1072.25 L455.27,1072.39 L456.26,1072.47 L457.26,1072.52 L458.25,1072.56 L459.25,1072.59 L460.24,1072.62 L461.23,1072.65 L462.23,1072.68 L463.22,1072.70 L464.22,1072.73 L465.21,1072.76 L466.20,1072.78 L467.20,1072.81 L468.19,1072.83 L469.19,1072.86 L470.18,1072.88 L471.17,1072.90 L472.17,1072.93 L473.16,1072.95 L474.16,1072.97 L475.15,1072.99 L476.14,1073.01 L477.14,1073.03 L478.13,1073.05 L479.13,1073.07 L480.12,1073.09 L481.11,1073.11 L482.11,1073.13 L483.10,1073.15 L484.10,1073.16 L485.09,1073.18 L486.08,1073.20 L487.08,1073.22 L488.07,1073.23 L489.07,1073.25 L490.06,1073.26 L491.05,1073.28 L492.05,1073.29 L493.04,1073.31 L494.04,1073.32 L495.03,1073.34 L496.02,1073.35 L497.02,1073.37 L498.01,1073.38 L499.01,1073.39 L500.00,1073.41 L500.99,1073.42 L501.99,1073.43 L502.98,1073.44 L503.98,1073.45 L504.97,1073.47 L505.96,1073.48 L506.96,1073.49 L507.95,1073.50 L508.95,1073.51 L509.94,1073.52 L510.93,1073.53 L511.93,1073.54 L512.92,1073.55 L513.92,1073.56 L514.91,1073.57 L515.90,1073.58 L516.90,1073.59 L517.89,1073.60 L518.89,1073.61 L519.88,1073.62 L520.87,1073.63 L521.87,1073.64 L522.86,1073.65 L523.86,1073.65 L524.85,1073.66 L525.84,1073.67 L526.84,1073.68 L527.83,1073.69 L528.83,1073.69 L529.82,1073.70 L530.81,1073.71 L531.81,1073.72 L532.80,1073.72 L533.80,1073.73 L534.79,1073.74 L535.78,1073.74 L536.78,1073.75 L537.77,1073.76 L538.77,1073.77 L539.76,1073.77 L540.75,1073.78 L541.75,1073.78 L542.74,1073.79 L543.74,1073.80 L544.73,1073.80 L545.72,1073.81 L546.72,1073.81 L547.71,1073.82 L548.71,1073.83 L549.70,1073.83 L550.69,1073.84 L551.69,1073.84 L552.68,1073.85 L553.68,1073.85 L554.67,1073.86 L555.66,1073.86 L556.66,1073.87 L557.65,1073.87 L558.65,1073.88 L559.64,1073.88 L560.63,1073.89 L561.63,1073.89 L562.62,1073.90 L563.62,1073.90 L564.61,1073.91 L565.60,1073.91 L566.60,1073.92 L567.59,1073.92 L568.59,1073.93 L569.58,1073.93 L570.57,1073.94 L571.57,1073.94 L572.56,1073.95 L573.56,1073.95 L574.55,1073.95 L575.54,1073.96 L576.54,1073.96 L577.53,1073.97 L578.53,1073.97 L579.52,1073.98 L580.51,1073.98 L581.51,1073.98 L582.50,1073.99 L583.50,1073.99 L584.49,1074.00 L585.48,1074.00 L586.48,1074.00 L587.47,1074.01 L588.47,1074.01 L589.46,1074.02 L590.45,1074.02 L591.45,1074.02 L592.44,1074.03 L593.44,1074.03 L594.43,1074.03 L595.42,1074.04 L596.42,1074.04 L597.41,1074.05 L598.41,1074.05 L599.40,1074.05 L600.39,1074.06 L601.39,1074.06 L602.38,1074.07 L603.38,1074.07 L604.37,1074.07 L605.36,1074.08 L606.36,1074.08 L607.35,1074.08 L608.35,1074.09 L609.34,1074.09 L610.33,1074.09 L611.33,1074.10 L612.32,1074.10 L613.32,1074.11 L614.31,1074.11 L615.30,1074.11 L616.30,1074.12 L617.29,1074.12 L618.29,1074.12 L619.28,1074.13 L620.27,1074.13 L621.27,1074.14 L622.26,1074.14 L623.26,1074.14 L624.25,1074.15 L625.24,1074.15 L626.24,1074.15 L627.23,1074.16 L628.23,1074.16 L629.22,1074.17 L630.21,1074.17 L631.21,1074.17 L632.20,1074.18 L633.20,1074.18 L634.19,1074.19 L635.18,1074.19 L636.18,1074.19 L637.17,1074.20 L638.17,1074.20 L639.16,1074.21 L640.15,1074.21 L641.15,1074.21 L642.14,1074.22 L643.14,1074.22 L644.13,1074.23 L645.12,1074.23 L646.12,1074.23 L647.11,1074.24 L648.11,1074.24 L649.10,1074.25 L650.09,1074.25 L651.09,1074.26 L652.08,1074.26 L653.08,1074.26 L654.07,1074.27 L655.06,1074.27 L656.06,1074.28 L657.05,1074.28 L658.05,1074.29 L659.04,1074.29 L660.03,1074.30 L661.03,1074.30 L662.02,1074.31 L663.02,1074.31 L664.01,1074.32 L665.00,1074.32 L666.00,1074.33 L666.99,1074.33 L667.99,1074.34 L668.98,1074.34 L669.97,1074.35 L670.97,1074.35 L671.96,1074.36 L672.96,1074.36 L673.95,1074.37 L674.94,1074.37 L675.94,1074.38 L676.93,1074.38 L677.93,1074.39 L678.92,1074.40 L679.91,1074.40 L680.91,1074.41 L681.90,1074.41 L682.90,1074.42 L683.89,1074.43 L684.88,1074.43 L685.88,1074.44 L686.87,1074.45 L687.87,1074.45 L688.86,1074.46 L689.85,1074.47 L690.85,1074.47 L691.84,1074.48 L692.84,1074.49 L693.83,1074.49 L694.82,1074.50 L695.82,1074.51 L696.81,1074.52 L697.81,1074.53 L698.80,1074.53 L699.79,1074.54 L700.79,1074.55 L701.78,1074.56 L702.78,1074.57 L703.77,1074.58 L704.76,1074.59 L705.76,1074.60 L706.75,1074.61 L707.75,1074.62 L708.74,1074.63 L709.73,1074.65 L710.73,1074.66 L711.72,1074.67 L712.72,1074.69 L713.71,1074.70 L714.70,1074.72 L715.70,1074.74 L716.69,1074.75 L717.69,1074.77 L718.68,1074.79 L719.67,1074.82 L720.67,1074.84 L721.66,1074.86 L722.66,1074.89 L723.65,1074.92 L724.64,1074.95 L725.64,1074.99 L726.63,1075.03 L727.63,1075.07 L728.62,1075.11 L729.61,1075.16 L730.61,1075.22 L731.60,1075.28 L732.60,1075.34 L733.59,1075.42 L734.58,1075.50 L735.58,1075.59 L736.57,1075.69 L737.57,1075.81 L738.56,1075.94 L739.55,1076.11 L740.55,1076.31 L741.54,1076.57 L742.54,1076.92 L743.53,1077.42 L744.52,1078.16 L745.52,1079.32 L746.51,1081.19 L747.51,1084.28 L748.50,1089.47 L748.5,1074.0 Z" fill="#c4c4c4" stroke="#b8b8b8" stroke-width="0.6"/>
<rect x="450.30" y="1049.6" width="9.70" height="8.00" fill="#D93A31"/>
<rect x="460.00" y="1049.6" width="14.00" height="8.00" fill="#EF6B53"/>
<rect x="474.00" y="1049.6" width="26.00" height="8.00" fill="#F5A68C"/>
<rect x="500.00" y="1049.6" width="49.00" height="8.00" fill="#FCDCCB"/>
<rect x="549.00" y="1049.6" width="48.00" height="8.00" fill="#EAEFF9"/>
<rect x="597.00" y="1049.6" width="53.00" height="8.00" fill="#C2D9EC"/>
<rect x="650.00" y="1049.6" width="62.00" height="8.00" fill="#88B9DD"/>
<rect x="712.00" y="1049.6" width="36.50" height="8.00" fill="#4C8DC5"/>
<path d="M451.00,1030.3V1049.6M455.30,1030.3V1049.6M457.00,1030.3V1049.6M458.70,1030.3V1049.6M460.20,1030.3V1049.6M462.30,1030.3V1049.6M470.40,1030.3V1049.6M478.90,1030.3V1049.6M485.20,1030.3V1049.6M486.70,1030.3V1049.6M518.10,1030.3V1049.6M534.90,1030.3V1049.6M548.70,1030.3V1049.6M576.90,1030.3V1049.6M588.60,1030.3V1049.6M591.20,1030.3V1049.6M593.90,1030.3V1049.6M597.10,1030.3V1049.6M600.40,1030.3V1049.6M604.60,1030.3V1049.6M610.60,1030.3V1049.6M630.10,1030.3V1049.6M633.30,1030.3V1049.6M649.60,1030.3V1049.6M651.30,1030.3V1049.6M653.50,1030.3V1049.6M676.80,1030.3V1049.6M684.20,1030.3V1049.6M687.40,1030.3V1049.6M693.80,1030.3V1049.6M695.90,1030.3V1049.6M700.10,1030.3V1049.6M709.70,1030.3V1049.6M711.80,1030.3V1049.6M715.00,1030.3V1049.6M722.50,1030.3V1049.6M725.60,1030.3V1049.6M727.80,1030.3V1049.6M729.90,1030.3V1049.6M732.00,1030.3V1049.6M733.70,1030.3V1049.6M735.80,1030.3V1049.6M738.40,1030.3V1049.6M742.60,1030.3V1049.6M744.70,1030.3V1049.6M746.40,1030.3V1049.6" stroke="#000" stroke-width="1.3" fill="none"/>
<path d="M450.60,979.40 L452.50,976.50 L455.90,975.20 L458.00,971.50 L461.20,968.80 L467.20,968.20 L469.70,969.90 L471.80,969.00 L479.30,970.90 L485.60,971.60 L487.80,968.80 L517.50,977.90 L535.50,982.60 L548.70,985.80 L600.00,1001.70 L614.20,1005.90 L632.20,1010.60 L650.20,1016.10 L655.50,1016.50 L675.70,1022.90 L687.40,1024.60 L698.00,1024.60 L709.70,1027.20 L721.40,1026.10 L723.10,1020.80 L729.90,1016.50 L735.20,1012.30 L738.40,1003.40 L741.00,1006.00 L743.70,985.80 L746.90,978.80 L748.50,977.50" stroke="#00ff00" stroke-width="2.7" fill="none" stroke-linejoin="round"/>
<line x1="450.3" y1="965.5" x2="450.3" y2="1093.5" stroke="#000" stroke-width="1.15"/>
<line x1="449.7" y1="1092.9" x2="748.5" y2="1092.9" stroke="#000" stroke-width="1.2"/>
<line x1="447.7" y1="979.50" x2="450.3" y2="979.50" stroke="#333" stroke-width="0.9"/>
<text x="446.40" y="983.40" font-size="11.0" text-anchor="end" fill="#1a1a1a" color="#1a1a1a">0.0</text>
<line x1="447.7" y1="998.60" x2="450.3" y2="998.60" stroke="#333" stroke-width="0.9"/>
<text x="446.40" y="1002.50" font-size="11.0" text-anchor="end" fill="#1a1a1a" color="#1a1a1a">-0.2</text>
<line x1="447.7" y1="1017.70" x2="450.3" y2="1017.70" stroke="#333" stroke-width="0.9"/>
<text x="446.40" y="1021.60" font-size="11.0" text-anchor="end" fill="#1a1a1a" color="#1a1a1a">-0.4</text>
<line x1="447.7" y1="1058.90" x2="450.3" y2="1058.90" stroke="#333" stroke-width="0.9"/>
<text x="446.40" y="1062.80" font-size="11.0" text-anchor="end" fill="#1a1a1a" color="#1a1a1a">10</text>
<line x1="447.7" y1="1066.50" x2="450.3" y2="1066.50" stroke="#333" stroke-width="0.9"/>
<text x="446.40" y="1070.40" font-size="11.0" text-anchor="end" fill="#1a1a1a" color="#1a1a1a">5</text>
<line x1="447.7" y1="1074.00" x2="450.3" y2="1074.00" stroke="#333" stroke-width="0.9"/>
<text x="446.40" y="1077.90" font-size="11.0" text-anchor="end" fill="#1a1a1a" color="#1a1a1a">0</text>
<line x1="447.7" y1="1081.60" x2="450.3" y2="1081.60" stroke="#333" stroke-width="0.9"/>
<text x="446.40" y="1085.50" font-size="11.0" text-anchor="end" fill="#1a1a1a" color="#1a1a1a">-5</text>
<line x1="447.7" y1="1089.20" x2="450.3" y2="1089.20" stroke="#333" stroke-width="0.9"/>
<text x="446.40" y="1093.10" font-size="11.0" text-anchor="end" fill="#1a1a1a" color="#1a1a1a">-10</text>
<line x1="559.50" y1="1092.9" x2="559.50" y2="1095.4" stroke="#333" stroke-width="0.9"/>
<text x="559.50" y="1104.90" font-size="11.0" text-anchor="middle" fill="#1a1a1a" color="#1a1a1a">5000</text>
<line x1="668.70" y1="1092.9" x2="668.70" y2="1095.4" stroke="#333" stroke-width="0.9"/>
<text x="668.70" y="1104.90" font-size="11.0" text-anchor="middle" fill="#1a1a1a" color="#1a1a1a">10000</text>
<text x="592.52" y="1114.60" font-size="10.9" text-anchor="middle" fill="#1a1a1a" color="#1a1a1a" letter-spacing="0.249">Rank in Ordered Dataset</text>
<text x="399.40" y="1025.60" font-size="10.7" text-anchor="start" fill="#1a1a1a" color="#1a1a1a" letter-spacing="0.32" transform="rotate(-90 399.40 1025.60)">Running</text>
<text x="411.50" y="1025.60" font-size="10.7" text-anchor="start" fill="#1a1a1a" color="#1a1a1a" letter-spacing="0.468" transform="rotate(-90 411.50 1025.60)">Enrichment</text>
<text x="423.60" y="1025.60" font-size="10.7" text-anchor="start" fill="#1a1a1a" color="#1a1a1a" letter-spacing="0.35" transform="rotate(-90 423.60 1025.60)">Score</text>
<text x="399.40" y="1089.50" font-size="10.7" text-anchor="start" fill="#1a1a1a" color="#1a1a1a" letter-spacing="0.17" transform="rotate(-90 399.40 1089.50)">Ranked</text>
<text x="411.50" y="1089.50" font-size="10.7" text-anchor="start" fill="#1a1a1a" color="#1a1a1a" letter-spacing="0.037" transform="rotate(-90 411.50 1089.50)">List</text>
<text x="423.60" y="1089.50" font-size="10.7" text-anchor="start" fill="#1a1a1a" color="#1a1a1a" letter-spacing="0.195" transform="rotate(-90 423.60 1089.50)">Metric</text>
<text x="451.60" y="961.40" font-size="10.5" text-anchor="start" fill="#1a1a1a" color="#1a1a1a" letter-spacing="0.555">extracellular matrix</text>
<text x="670.80" y="970.80" font-size="10.0" text-anchor="start" fill="#1a1a1a" color="#1a1a1a" letter-spacing="0.728">p=0.01107</text>
<text x="670.80" y="986.30" font-size="10.0" text-anchor="start" fill="#1a1a1a" color="#1a1a1a" letter-spacing="0.82">NES=-1.57</text>
<text x="0" y="0" font-size="16.6" font-weight="bold" fill="#000" style="stroke:none" transform="translate(399.80 958.30) scale(0.95 1)">E</text>
<line x1="115.35" y1="1147.0" x2="115.35" y2="1211.3" stroke="#e6e6e6" stroke-width="0.9"/>
<line x1="115.35" y1="1238.5" x2="115.35" y2="1274.3" stroke="#e6e6e6" stroke-width="0.9"/>
<line x1="170.10" y1="1147.0" x2="170.10" y2="1211.3" stroke="#e6e6e6" stroke-width="0.9"/>
<line x1="170.10" y1="1238.5" x2="170.10" y2="1274.3" stroke="#e6e6e6" stroke-width="0.9"/>
<line x1="224.85" y1="1147.0" x2="224.85" y2="1211.3" stroke="#e6e6e6" stroke-width="0.9"/>
<line x1="224.85" y1="1238.5" x2="224.85" y2="1274.3" stroke="#e6e6e6" stroke-width="0.9"/>
<line x1="279.60" y1="1147.0" x2="279.60" y2="1211.3" stroke="#e6e6e6" stroke-width="0.9"/>
<line x1="279.60" y1="1238.5" x2="279.60" y2="1274.3" stroke="#e6e6e6" stroke-width="0.9"/>
<line x1="334.35" y1="1147.0" x2="334.35" y2="1211.3" stroke="#e6e6e6" stroke-width="0.9"/>
<line x1="334.35" y1="1238.5" x2="334.35" y2="1274.3" stroke="#e6e6e6" stroke-width="0.9"/>
<line x1="60.6" y1="1255.2" x2="358.5" y2="1255.2" stroke="#d9d9d9" stroke-width="0.9"/>
<path d="M60.6,1255.2 L60.60,1248.28 L61.59,1251.28 L62.59,1252.60 L63.58,1253.20 L64.57,1253.47 L65.56,1253.61 L66.56,1253.69 L67.55,1253.74 L68.54,1253.78 L69.54,1253.81 L70.53,1253.84 L71.52,1253.87 L72.52,1253.90 L73.51,1253.92 L74.50,1253.95 L75.50,1253.97 L76.49,1254.00 L77.48,1254.02 L78.47,1254.05 L79.47,1254.07 L80.46,1254.10 L81.45,1254.12 L82.45,1254.14 L83.44,1254.16 L84.43,1254.18 L85.42,1254.20 L86.42,1254.23 L87.41,1254.25 L88.40,1254.26 L89.40,1254.28 L90.39,1254.30 L91.38,1254.32 L92.38,1254.34 L93.37,1254.36 L94.36,1254.38 L95.35,1254.39 L96.35,1254.41 L97.34,1254.43 L98.33,1254.44 L99.33,1254.46 L100.32,1254.47 L101.31,1254.49 L102.31,1254.50 L103.30,1254.52 L104.29,1254.53 L105.28,1254.55 L106.28,1254.56 L107.27,1254.57 L108.26,1254.59 L109.26,1254.60 L110.25,1254.61 L111.24,1254.63 L112.24,1254.64 L113.23,1254.65 L114.22,1254.66 L115.22,1254.67 L116.21,1254.68 L117.20,1254.70 L118.19,1254.71 L119.19,1254.72 L120.18,1254.73 L121.17,1254.74 L122.17,1254.75 L123.16,1254.76 L124.15,1254.77 L125.15,1254.78 L126.14,1254.79 L127.13,1254.80 L128.12,1254.81 L129.12,1254.82 L130.11,1254.82 L131.10,1254.83 L132.10,1254.84 L133.09,1254.85 L134.08,1254.86 L135.07,1254.87 L136.07,1254.87 L137.06,1254.88 L138.05,1254.89 L139.05,1254.90 L140.04,1254.91 L141.03,1254.91 L142.03,1254.92 L143.02,1254.93 L144.01,1254.93 L145.00,1254.94 L146.00,1254.95 L146.99,1254.96 L147.98,1254.96 L148.98,1254.97 L149.97,1254.97 L150.96,1254.98 L151.96,1254.99 L152.95,1254.99 L153.94,1255.00 L154.94,1255.01 L155.93,1255.01 L156.92,1255.02 L157.91,1255.02 L158.91,1255.03 L159.90,1255.03 L160.89,1255.04 L161.89,1255.05 L162.88,1255.05 L163.87,1255.06 L164.86,1255.06 L165.86,1255.07 L166.85,1255.07 L167.84,1255.08 L168.84,1255.08 L169.83,1255.09 L170.82,1255.09 L171.82,1255.10 L172.81,1255.10 L173.80,1255.11 L174.79,1255.11 L175.79,1255.12 L176.78,1255.12 L177.77,1255.12 L178.77,1255.13 L179.76,1255.13 L180.75,1255.14 L181.75,1255.14 L182.74,1255.15 L183.73,1255.15 L184.72,1255.15 L185.72,1255.16 L186.71,1255.16 L187.70,1255.17 L188.70,1255.17 L189.69,1255.18 L190.68,1255.18 L191.68,1255.18 L192.67,1255.19 L193.66,1255.19 L194.66,1255.20 L195.65,1255.20 L196.64,1255.20 L197.63,1255.21 L198.63,1255.21 L199.62,1255.22 L200.61,1255.22 L201.61,1255.22 L202.60,1255.23 L203.59,1255.23 L204.58,1255.23 L205.58,1255.24 L206.57,1255.24 L207.56,1255.25 L208.56,1255.25 L209.55,1255.25 L210.54,1255.26 L211.54,1255.26 L212.53,1255.26 L213.52,1255.27 L214.51,1255.27 L215.51,1255.28 L216.50,1255.28 L217.49,1255.28 L218.49,1255.29 L219.48,1255.29 L220.47,1255.29 L221.47,1255.30 L222.46,1255.30 L223.45,1255.30 L224.44,1255.31 L225.44,1255.31 L226.43,1255.32 L227.42,1255.32 L228.42,1255.32 L229.41,1255.33 L230.40,1255.33 L231.40,1255.33 L232.39,1255.34 L233.38,1255.34 L234.38,1255.35 L235.37,1255.35 L236.36,1255.35 L237.35,1255.36 L238.35,1255.36 L239.34,1255.36 L240.33,1255.37 L241.33,1255.37 L242.32,1255.38 L243.31,1255.38 L244.30,1255.38 L245.30,1255.39 L246.29,1255.39 L247.28,1255.39 L248.28,1255.40 L249.27,1255.40 L250.26,1255.41 L251.26,1255.41 L252.25,1255.41 L253.24,1255.42 L254.23,1255.42 L255.23,1255.43 L256.22,1255.43 L257.21,1255.44 L258.21,1255.44 L259.20,1255.44 L260.19,1255.45 L261.19,1255.45 L262.18,1255.46 L263.17,1255.46 L264.17,1255.47 L265.16,1255.47 L266.15,1255.47 L267.14,1255.48 L268.14,1255.48 L269.13,1255.49 L270.12,1255.49 L271.12,1255.50 L272.11,1255.50 L273.10,1255.51 L274.09,1255.51 L275.09,1255.52 L276.08,1255.52 L277.07,1255.53 L278.07,1255.53 L279.06,1255.54 L280.05,1255.54 L281.05,1255.55 L282.04,1255.55 L283.03,1255.56 L284.02,1255.56 L285.02,1255.57 L286.01,1255.57 L287.00,1255.58 L288.00,1255.59 L288.99,1255.59 L289.98,1255.60 L290.98,1255.60 L291.97,1255.61 L292.96,1255.61 L293.95,1255.62 L294.95,1255.63 L295.94,1255.63 L296.93,1255.64 L297.93,1255.65 L298.92,1255.65 L299.91,1255.66 L300.91,1255.67 L301.90,1255.67 L302.89,1255.68 L303.88,1255.69 L304.88,1255.70 L305.87,1255.70 L306.86,1255.71 L307.86,1255.72 L308.85,1255.73 L309.84,1255.74 L310.84,1255.74 L311.83,1255.75 L312.82,1255.76 L313.81,1255.77 L314.81,1255.78 L315.80,1255.79 L316.79,1255.80 L317.79,1255.81 L318.78,1255.83 L319.77,1255.84 L320.77,1255.85 L321.76,1255.86 L322.75,1255.88 L323.75,1255.89 L324.74,1255.91 L325.73,1255.93 L326.72,1255.94 L327.72,1255.96 L328.71,1255.98 L329.70,1256.01 L330.70,1256.03 L331.69,1256.05 L332.68,1256.08 L333.68,1256.11 L334.67,1256.14 L335.66,1256.18 L336.65,1256.21 L337.65,1256.25 L338.64,1256.30 L339.63,1256.35 L340.63,1256.40 L341.62,1256.46 L342.61,1256.53 L343.60,1256.60 L344.60,1256.68 L345.59,1256.77 L346.58,1256.87 L347.58,1256.98 L348.57,1257.12 L349.56,1257.28 L350.56,1257.48 L351.55,1257.73 L352.54,1258.08 L353.53,1258.57 L354.53,1259.31 L355.52,1260.45 L356.51,1262.30 L357.51,1265.34 L358.50,1270.47 L358.5,1255.2 Z" fill="#c4c4c4" stroke="#b8b8b8" stroke-width="0.6"/>
<rect x="60.60" y="1230.8" width="5.40" height="7.70" fill="#C8221F"/>
<rect x="66.00" y="1230.8" width="6.10" height="7.70" fill="#D93A31"/>
<rect x="72.10" y="1230.8" width="10.10" height="7.70" fill="#EF6B53"/>
<rect x="82.20" y="1230.8" width="16.10" height="7.70" fill="#F5A68C"/>
<rect x="98.30" y="1230.8" width="22.20" height="7.70" fill="#FCDCCB"/>
<rect x="120.50" y="1230.8" width="16.10" height="7.70" fill="#EAEFF9"/>
<rect x="136.60" y="1230.8" width="58.50" height="7.70" fill="#C2D9EC"/>
<rect x="195.10" y="1230.8" width="78.60" height="7.70" fill="#88B9DD"/>
<rect x="273.70" y="1230.8" width="54.40" height="7.70" fill="#4C8DC5"/>
<rect x="328.10" y="1230.8" width="30.40" height="7.70" fill="#2162A8"/>
<path d="M91.10,1211.8V1230.8M106.00,1211.8V1230.8M112.70,1211.8V1230.8M128.60,1211.8V1230.8M144.10,1211.8V1230.8M185.50,1211.8V1230.8M192.50,1211.8V1230.8M214.60,1211.8V1230.8M214.60,1211.8V1230.8M224.10,1211.8V1230.8M268.70,1211.8V1230.8M276.80,1211.8V1230.8M278.30,1211.8V1230.8M279.70,1211.8V1230.8M281.40,1211.8V1230.8M283.60,1211.8V1230.8M285.70,1211.8V1230.8M291.00,1211.8V1230.8M293.10,1211.8V1230.8M295.20,1211.8V1230.8M296.70,1211.8V1230.8M298.40,1211.8V1230.8M300.10,1211.8V1230.8M302.20,1211.8V1230.8M303.70,1211.8V1230.8M313.70,1211.8V1230.8M320.10,1211.8V1230.8M325.00,1211.8V1230.8M330.30,1211.8V1230.8M334.10,1211.8V1230.8M335.50,1211.8V1230.8M336.90,1211.8V1230.8M338.10,1211.8V1230.8M339.50,1211.8V1230.8M340.90,1211.8V1230.8M342.80,1211.8V1230.8M345.10,1211.8V1230.8M349.40,1211.8V1230.8M352.10,1211.8V1230.8" stroke="#000" stroke-width="1.3" fill="none"/>
<path d="M60.90,1151.00 L90.00,1160.80 L92.10,1158.70 L105.50,1162.90 L107.00,1161.20 L112.30,1162.90 L114.00,1161.60 L128.20,1167.20 L129.30,1165.90 L144.10,1170.80 L145.20,1168.70 L184.50,1181.40 L185.60,1180.30 L192.50,1183.00 L193.50,1182.00 L215.00,1190.00 L225.20,1192.00 L267.60,1206.20 L276.10,1208.30 L281.40,1205.40 L289.90,1206.20 L298.40,1202.60 L303.70,1199.40 L309.00,1201.50 L313.30,1200.50 L320.70,1202.00 L325.00,1199.40 L331.30,1197.30 L334.50,1191.00 L338.70,1177.10 L342.00,1174.00 L345.10,1175.00 L346.80,1167.60 L350.40,1166.50 L351.50,1154.90 L353.60,1149.60 L358.30,1151.00" stroke="#00ff00" stroke-width="2.7" fill="none" stroke-linejoin="round"/>
<line x1="60.6" y1="1147.0" x2="60.6" y2="1274.8999999999999" stroke="#000" stroke-width="1.15"/>
<line x1="60.0" y1="1274.3" x2="358.5" y2="1274.3" stroke="#000" stroke-width="1.2"/>
<line x1="58.0" y1="1150.90" x2="60.6" y2="1150.90" stroke="#333" stroke-width="0.9"/>
<text x="55.60" y="1154.80" font-size="11.0" text-anchor="end" fill="#1a1a1a" color="#1a1a1a">0.0</text>
<line x1="58.0" y1="1169.90" x2="60.6" y2="1169.90" stroke="#333" stroke-width="0.9"/>
<text x="55.60" y="1173.80" font-size="11.0" text-anchor="end" fill="#1a1a1a" color="#1a1a1a">-0.2</text>
<line x1="58.0" y1="1188.90" x2="60.6" y2="1188.90" stroke="#333" stroke-width="0.9"/>
<text x="55.60" y="1192.80" font-size="11.0" text-anchor="end" fill="#1a1a1a" color="#1a1a1a">-0.4</text>
<line x1="58.0" y1="1207.90" x2="60.6" y2="1207.90" stroke="#333" stroke-width="0.9"/>
<text x="55.60" y="1211.80" font-size="11.0" text-anchor="end" fill="#1a1a1a" color="#1a1a1a">-0.6</text>
<line x1="58.0" y1="1240.40" x2="60.6" y2="1240.40" stroke="#333" stroke-width="0.9"/>
<text x="55.60" y="1244.30" font-size="11.0" text-anchor="end" fill="#1a1a1a" color="#1a1a1a">10</text>
<line x1="58.0" y1="1247.80" x2="60.6" y2="1247.80" stroke="#333" stroke-width="0.9"/>
<text x="55.60" y="1251.70" font-size="11.0" text-anchor="end" fill="#1a1a1a" color="#1a1a1a">5</text>
<line x1="58.0" y1="1255.20" x2="60.6" y2="1255.20" stroke="#333" stroke-width="0.9"/>
<text x="55.60" y="1259.10" font-size="11.0" text-anchor="end" fill="#1a1a1a" color="#1a1a1a">0</text>
<line x1="58.0" y1="1262.70" x2="60.6" y2="1262.70" stroke="#333" stroke-width="0.9"/>
<text x="55.60" y="1266.60" font-size="11.0" text-anchor="end" fill="#1a1a1a" color="#1a1a1a">-5</text>
<line x1="58.0" y1="1270.20" x2="60.6" y2="1270.20" stroke="#333" stroke-width="0.9"/>
<text x="55.60" y="1274.10" font-size="11.0" text-anchor="end" fill="#1a1a1a" color="#1a1a1a">-10</text>
<line x1="170.10" y1="1274.3" x2="170.10" y2="1276.8" stroke="#333" stroke-width="0.9"/>
<text x="170.10" y="1286.30" font-size="11.0" text-anchor="middle" fill="#1a1a1a" color="#1a1a1a">5000</text>
<line x1="279.60" y1="1274.3" x2="279.60" y2="1276.8" stroke="#333" stroke-width="0.9"/>
<text x="279.60" y="1286.30" font-size="11.0" text-anchor="middle" fill="#1a1a1a" color="#1a1a1a">10000</text>
<text x="202.82" y="1296.00" font-size="10.9" text-anchor="middle" fill="#1a1a1a" color="#1a1a1a" letter-spacing="0.249">Rank in Ordered Dataset</text>
<text x="8.90" y="1207.10" font-size="10.7" text-anchor="start" fill="#1a1a1a" color="#1a1a1a" letter-spacing="0.32" transform="rotate(-90 8.90 1207.10)">Running</text>
<text x="21.00" y="1207.10" font-size="10.7" text-anchor="start" fill="#1a1a1a" color="#1a1a1a" letter-spacing="0.468" transform="rotate(-90 21.00 1207.10)">Enrichment</text>
<text x="33.10" y="1207.10" font-size="10.7" text-anchor="start" fill="#1a1a1a" color="#1a1a1a" letter-spacing="0.35" transform="rotate(-90 33.10 1207.10)">Score</text>
<text x="8.90" y="1270.90" font-size="10.7" text-anchor="start" fill="#1a1a1a" color="#1a1a1a" letter-spacing="0.17" transform="rotate(-90 8.90 1270.90)">Ranked</text>
<text x="21.00" y="1270.90" font-size="10.7" text-anchor="start" fill="#1a1a1a" color="#1a1a1a" letter-spacing="0.037" transform="rotate(-90 21.00 1270.90)">List</text>
<text x="33.10" y="1270.90" font-size="10.7" text-anchor="start" fill="#1a1a1a" color="#1a1a1a" letter-spacing="0.195" transform="rotate(-90 33.10 1270.90)">Metric</text>
<text x="61.50" y="1145.50" font-size="10.5" text-anchor="start" fill="#1a1a1a" color="#1a1a1a" letter-spacing="0.529">DNA replication</text>
<text x="281.90" y="1149.60" font-size="10.0" text-anchor="start" fill="#1a1a1a" color="#1a1a1a" letter-spacing="0.744">p=0.004323</text>
<text x="281.90" y="1165.10" font-size="10.0" text-anchor="start" fill="#1a1a1a" color="#1a1a1a" letter-spacing="0.821">NES=-1.823</text>
<text x="0" y="0" font-size="16.6" font-weight="bold" fill="#000" style="stroke:none" transform="translate(2.50 1134.80) scale(0.95 1)">F</text>
<line x1="503.60" y1="1145.8" x2="503.60" y2="1209.5" stroke="#e6e6e6" stroke-width="0.9"/>
<line x1="503.60" y1="1237.6" x2="503.60" y2="1273.0" stroke="#e6e6e6" stroke-width="0.9"/>
<line x1="558.70" y1="1145.8" x2="558.70" y2="1209.5" stroke="#e6e6e6" stroke-width="0.9"/>
<line x1="558.70" y1="1237.6" x2="558.70" y2="1273.0" stroke="#e6e6e6" stroke-width="0.9"/>
<line x1="613.80" y1="1145.8" x2="613.80" y2="1209.5" stroke="#e6e6e6" stroke-width="0.9"/>
<line x1="613.80" y1="1237.6" x2="613.80" y2="1273.0" stroke="#e6e6e6" stroke-width="0.9"/>
<line x1="668.90" y1="1145.8" x2="668.90" y2="1209.5" stroke="#e6e6e6" stroke-width="0.9"/>
<line x1="668.90" y1="1237.6" x2="668.90" y2="1273.0" stroke="#e6e6e6" stroke-width="0.9"/>
<line x1="724.00" y1="1145.8" x2="724.00" y2="1209.5" stroke="#e6e6e6" stroke-width="0.9"/>
<line x1="724.00" y1="1237.6" x2="724.00" y2="1273.0" stroke="#e6e6e6" stroke-width="0.9"/>
<line x1="448.5" y1="1254.2" x2="748.5" y2="1254.2" stroke="#d9d9d9" stroke-width="0.9"/>
<path d="M448.5,1254.2 L448.50,1247.28 L449.50,1250.28 L450.50,1251.60 L451.50,1252.20 L452.50,1252.47 L453.50,1252.61 L454.50,1252.69 L455.50,1252.74 L456.50,1252.78 L457.50,1252.81 L458.50,1252.84 L459.50,1252.87 L460.50,1252.90 L461.50,1252.92 L462.50,1252.95 L463.50,1252.97 L464.50,1253.00 L465.50,1253.02 L466.50,1253.05 L467.50,1253.07 L468.50,1253.10 L469.50,1253.12 L470.50,1253.14 L471.50,1253.16 L472.50,1253.18 L473.50,1253.20 L474.50,1253.23 L475.50,1253.25 L476.50,1253.26 L477.50,1253.28 L478.50,1253.30 L479.50,1253.32 L480.50,1253.34 L481.50,1253.36 L482.50,1253.38 L483.50,1253.39 L484.50,1253.41 L485.50,1253.43 L486.50,1253.44 L487.50,1253.46 L488.50,1253.47 L489.50,1253.49 L490.50,1253.50 L491.50,1253.52 L492.50,1253.53 L493.50,1253.55 L494.50,1253.56 L495.50,1253.57 L496.50,1253.59 L497.50,1253.60 L498.50,1253.61 L499.50,1253.63 L500.50,1253.64 L501.50,1253.65 L502.50,1253.66 L503.50,1253.67 L504.50,1253.68 L505.50,1253.70 L506.50,1253.71 L507.50,1253.72 L508.50,1253.73 L509.50,1253.74 L510.50,1253.75 L511.50,1253.76 L512.50,1253.77 L513.50,1253.78 L514.50,1253.79 L515.50,1253.80 L516.50,1253.81 L517.50,1253.82 L518.50,1253.82 L519.50,1253.83 L520.50,1253.84 L521.50,1253.85 L522.50,1253.86 L523.50,1253.87 L524.50,1253.87 L525.50,1253.88 L526.50,1253.89 L527.50,1253.90 L528.50,1253.91 L529.50,1253.91 L530.50,1253.92 L531.50,1253.93 L532.50,1253.93 L533.50,1253.94 L534.50,1253.95 L535.50,1253.96 L536.50,1253.96 L537.50,1253.97 L538.50,1253.97 L539.50,1253.98 L540.50,1253.99 L541.50,1253.99 L542.50,1254.00 L543.50,1254.01 L544.50,1254.01 L545.50,1254.02 L546.50,1254.02 L547.50,1254.03 L548.50,1254.03 L549.50,1254.04 L550.50,1254.05 L551.50,1254.05 L552.50,1254.06 L553.50,1254.06 L554.50,1254.07 L555.50,1254.07 L556.50,1254.08 L557.50,1254.08 L558.50,1254.09 L559.50,1254.09 L560.50,1254.10 L561.50,1254.10 L562.50,1254.11 L563.50,1254.11 L564.50,1254.12 L565.50,1254.12 L566.50,1254.12 L567.50,1254.13 L568.50,1254.13 L569.50,1254.14 L570.50,1254.14 L571.50,1254.15 L572.50,1254.15 L573.50,1254.15 L574.50,1254.16 L575.50,1254.16 L576.50,1254.17 L577.50,1254.17 L578.50,1254.18 L579.50,1254.18 L580.50,1254.18 L581.50,1254.19 L582.50,1254.19 L583.50,1254.20 L584.50,1254.20 L585.50,1254.20 L586.50,1254.21 L587.50,1254.21 L588.50,1254.22 L589.50,1254.22 L590.50,1254.22 L591.50,1254.23 L592.50,1254.23 L593.50,1254.23 L594.50,1254.24 L595.50,1254.24 L596.50,1254.25 L597.50,1254.25 L598.50,1254.25 L599.50,1254.26 L600.50,1254.26 L601.50,1254.26 L602.50,1254.27 L603.50,1254.27 L604.50,1254.28 L605.50,1254.28 L606.50,1254.28 L607.50,1254.29 L608.50,1254.29 L609.50,1254.29 L610.50,1254.30 L611.50,1254.30 L612.50,1254.30 L613.50,1254.31 L614.50,1254.31 L615.50,1254.32 L616.50,1254.32 L617.50,1254.32 L618.50,1254.33 L619.50,1254.33 L620.50,1254.33 L621.50,1254.34 L622.50,1254.34 L623.50,1254.35 L624.50,1254.35 L625.50,1254.35 L626.50,1254.36 L627.50,1254.36 L628.50,1254.36 L629.50,1254.37 L630.50,1254.37 L631.50,1254.38 L632.50,1254.38 L633.50,1254.38 L634.50,1254.39 L635.50,1254.39 L636.50,1254.39 L637.50,1254.40 L638.50,1254.40 L639.50,1254.41 L640.50,1254.41 L641.50,1254.41 L642.50,1254.42 L643.50,1254.42 L644.50,1254.43 L645.50,1254.43 L646.50,1254.44 L647.50,1254.44 L648.50,1254.44 L649.50,1254.45 L650.50,1254.45 L651.50,1254.46 L652.50,1254.46 L653.50,1254.47 L654.50,1254.47 L655.50,1254.47 L656.50,1254.48 L657.50,1254.48 L658.50,1254.49 L659.50,1254.49 L660.50,1254.50 L661.50,1254.50 L662.50,1254.51 L663.50,1254.51 L664.50,1254.52 L665.50,1254.52 L666.50,1254.53 L667.50,1254.53 L668.50,1254.54 L669.50,1254.54 L670.50,1254.55 L671.50,1254.55 L672.50,1254.56 L673.50,1254.56 L674.50,1254.57 L675.50,1254.57 L676.50,1254.58 L677.50,1254.59 L678.50,1254.59 L679.50,1254.60 L680.50,1254.60 L681.50,1254.61 L682.50,1254.61 L683.50,1254.62 L684.50,1254.63 L685.50,1254.63 L686.50,1254.64 L687.50,1254.65 L688.50,1254.65 L689.50,1254.66 L690.50,1254.67 L691.50,1254.67 L692.50,1254.68 L693.50,1254.69 L694.50,1254.70 L695.50,1254.70 L696.50,1254.71 L697.50,1254.72 L698.50,1254.73 L699.50,1254.74 L700.50,1254.74 L701.50,1254.75 L702.50,1254.76 L703.50,1254.77 L704.50,1254.78 L705.50,1254.79 L706.50,1254.80 L707.50,1254.81 L708.50,1254.83 L709.50,1254.84 L710.50,1254.85 L711.50,1254.86 L712.50,1254.88 L713.50,1254.89 L714.50,1254.91 L715.50,1254.93 L716.50,1254.94 L717.50,1254.96 L718.50,1254.98 L719.50,1255.01 L720.50,1255.03 L721.50,1255.05 L722.50,1255.08 L723.50,1255.11 L724.50,1255.14 L725.50,1255.18 L726.50,1255.21 L727.50,1255.25 L728.50,1255.30 L729.50,1255.35 L730.50,1255.40 L731.50,1255.46 L732.50,1255.53 L733.50,1255.60 L734.50,1255.68 L735.50,1255.77 L736.50,1255.87 L737.50,1255.98 L738.50,1256.12 L739.50,1256.28 L740.50,1256.48 L741.50,1256.73 L742.50,1257.08 L743.50,1257.57 L744.50,1258.31 L745.50,1259.45 L746.50,1261.30 L747.50,1264.34 L748.50,1269.47 L748.5,1254.2 Z" fill="#c4c4c4" stroke="#b8b8b8" stroke-width="0.6"/>
<rect x="448.40" y="1230.2" width="24.60" height="7.40" fill="#A81B1F"/>
<rect x="473.00" y="1230.2" width="75.50" height="7.40" fill="#D93A31"/>
<rect x="548.50" y="1230.2" width="30.50" height="7.40" fill="#EF6B53"/>
<rect x="579.00" y="1230.2" width="31.00" height="7.40" fill="#F5A68C"/>
<rect x="610.00" y="1230.2" width="27.50" height="7.40" fill="#FCDCCB"/>
<rect x="637.50" y="1230.2" width="25.20" height="7.40" fill="#EAEFF9"/>
<rect x="662.70" y="1230.2" width="72.80" height="7.40" fill="#C2D9EC"/>
<rect x="735.50" y="1230.2" width="7.50" height="7.40" fill="#88B9DD"/>
<rect x="743.00" y="1230.2" width="5.50" height="7.40" fill="#4C8DC5"/>
<path d="M448.90,1210.0V1230.2M449.50,1210.0V1230.2M450.10,1210.0V1230.2M450.70,1210.0V1230.2M451.30,1210.0V1230.2M452.00,1210.0V1230.2M452.30,1210.0V1230.2M453.80,1210.0V1230.2M455.30,1210.0V1230.2M456.60,1210.0V1230.2M457.40,1210.0V1230.2M460.80,1210.0V1230.2M462.30,1210.0V1230.2M469.70,1210.0V1230.2M493.10,1210.0V1230.2M533.40,1210.0V1230.2M534.50,1210.0V1230.2M535.50,1210.0V1230.2M546.10,1210.0V1230.2M554.60,1210.0V1230.2M557.80,1210.0V1230.2M560.60,1210.0V1230.2M562.10,1210.0V1230.2M563.60,1210.0V1230.2M573.70,1210.0V1230.2M585.30,1210.0V1230.2M591.60,1210.0V1230.2M592.60,1210.0V1230.2M610.10,1210.0V1230.2M616.80,1210.0V1230.2M620.20,1210.0V1230.2M637.10,1210.0V1230.2M643.30,1210.0V1230.2M646.70,1210.0V1230.2M668.70,1210.0V1230.2M690.60,1210.0V1230.2M696.30,1210.0V1230.2M723.10,1210.0V1230.2" stroke="#000" stroke-width="1.3" fill="none"/>
<path d="M448.50,1206.90 L450.20,1180.30 L451.70,1174.00 L453.80,1171.80 L454.90,1167.60 L457.40,1159.10 L460.20,1155.90 L462.30,1151.70 L464.40,1148.90 L469.70,1151.00 L470.80,1148.10 L492.60,1155.30 L494.80,1153.20 L533.40,1165.00 L535.10,1162.30 L546.10,1165.90 L554.60,1167.60 L565.20,1167.60 L573.70,1170.10 L600.00,1176.50 L617.40,1181.40 L636.50,1186.30 L637.50,1185.60 L643.90,1188.40 L646.00,1187.10 L668.30,1193.50 L668.80,1192.00 L689.50,1199.00 L690.60,1196.30 L695.50,1198.40 L697.00,1195.60 L722.50,1204.10 L724.00,1199.80 L748.50,1207.50" stroke="#00ff00" stroke-width="2.7" fill="none" stroke-linejoin="round"/>
<line x1="448.5" y1="1145.8" x2="448.5" y2="1273.6" stroke="#000" stroke-width="1.15"/>
<line x1="447.9" y1="1273.0" x2="748.5" y2="1273.0" stroke="#000" stroke-width="1.2"/>
<line x1="445.9" y1="1154.70" x2="448.5" y2="1154.70" stroke="#333" stroke-width="0.9"/>
<text x="443.80" y="1158.60" font-size="11.0" text-anchor="end" fill="#1a1a1a" color="#1a1a1a">0.0</text>
<line x1="445.9" y1="1172.30" x2="448.5" y2="1172.30" stroke="#333" stroke-width="0.9"/>
<text x="443.80" y="1176.20" font-size="11.0" text-anchor="end" fill="#1a1a1a" color="#1a1a1a">-0.2</text>
<line x1="445.9" y1="1189.90" x2="448.5" y2="1189.90" stroke="#333" stroke-width="0.9"/>
<text x="443.80" y="1193.80" font-size="11.0" text-anchor="end" fill="#1a1a1a" color="#1a1a1a">-0.4</text>
<line x1="445.9" y1="1207.50" x2="448.5" y2="1207.50" stroke="#333" stroke-width="0.9"/>
<text x="443.80" y="1211.40" font-size="11.0" text-anchor="end" fill="#1a1a1a" color="#1a1a1a">-0.6</text>
<line x1="445.9" y1="1239.30" x2="448.5" y2="1239.30" stroke="#333" stroke-width="0.9"/>
<text x="443.80" y="1243.20" font-size="11.0" text-anchor="end" fill="#1a1a1a" color="#1a1a1a">10</text>
<line x1="445.9" y1="1246.80" x2="448.5" y2="1246.80" stroke="#333" stroke-width="0.9"/>
<text x="443.80" y="1250.70" font-size="11.0" text-anchor="end" fill="#1a1a1a" color="#1a1a1a">5</text>
<line x1="445.9" y1="1254.20" x2="448.5" y2="1254.20" stroke="#333" stroke-width="0.9"/>
<text x="443.80" y="1258.10" font-size="11.0" text-anchor="end" fill="#1a1a1a" color="#1a1a1a">0</text>
<line x1="445.9" y1="1261.70" x2="448.5" y2="1261.70" stroke="#333" stroke-width="0.9"/>
<text x="443.80" y="1265.60" font-size="11.0" text-anchor="end" fill="#1a1a1a" color="#1a1a1a">-5</text>
<line x1="445.9" y1="1269.20" x2="448.5" y2="1269.20" stroke="#333" stroke-width="0.9"/>
<text x="443.80" y="1273.10" font-size="11.0" text-anchor="end" fill="#1a1a1a" color="#1a1a1a">-10</text>
<line x1="558.70" y1="1273.0" x2="558.70" y2="1275.5" stroke="#333" stroke-width="0.9"/>
<text x="558.70" y="1285.00" font-size="11.0" text-anchor="middle" fill="#1a1a1a" color="#1a1a1a">5000</text>
<line x1="668.90" y1="1273.0" x2="668.90" y2="1275.5" stroke="#333" stroke-width="0.9"/>
<text x="668.90" y="1285.00" font-size="11.0" text-anchor="middle" fill="#1a1a1a" color="#1a1a1a">10000</text>
<text x="591.22" y="1294.70" font-size="10.9" text-anchor="middle" fill="#1a1a1a" color="#1a1a1a" letter-spacing="0.249">Rank in Ordered Dataset</text>
<text x="397.60" y="1205.30" font-size="10.7" text-anchor="start" fill="#1a1a1a" color="#1a1a1a" letter-spacing="0.32" transform="rotate(-90 397.60 1205.30)">Running</text>
<text x="409.70" y="1205.30" font-size="10.7" text-anchor="start" fill="#1a1a1a" color="#1a1a1a" letter-spacing="0.468" transform="rotate(-90 409.70 1205.30)">Enrichment</text>
<text x="421.80" y="1205.30" font-size="10.7" text-anchor="start" fill="#1a1a1a" color="#1a1a1a" letter-spacing="0.35" transform="rotate(-90 421.80 1205.30)">Score</text>
<text x="397.60" y="1269.60" font-size="10.7" text-anchor="start" fill="#1a1a1a" color="#1a1a1a" letter-spacing="0.17" transform="rotate(-90 397.60 1269.60)">Ranked</text>
<text x="409.70" y="1269.60" font-size="10.7" text-anchor="start" fill="#1a1a1a" color="#1a1a1a" letter-spacing="0.037" transform="rotate(-90 409.70 1269.60)">List</text>
<text x="421.80" y="1269.60" font-size="10.7" text-anchor="start" fill="#1a1a1a" color="#1a1a1a" letter-spacing="0.195" transform="rotate(-90 421.80 1269.60)">Metric</text>
<text x="451.60" y="1145.20" font-size="10.5" text-anchor="start" fill="#1a1a1a" color="#1a1a1a" letter-spacing="0.589">Ferroptosis</text>
<text x="670.80" y="1149.60" font-size="10.0" text-anchor="start" fill="#1a1a1a" color="#1a1a1a" letter-spacing="0.744">p=0.003155</text>
<text x="670.80" y="1165.10" font-size="10.0" text-anchor="start" fill="#1a1a1a" color="#1a1a1a" letter-spacing="0.857">NES=2.206</text>
<text x="0" y="0" font-size="16.6" font-weight="bold" fill="#000" style="stroke:none" transform="translate(397.90 1138.50) scale(0.95 1)">G</text>
</svg></body></html>
